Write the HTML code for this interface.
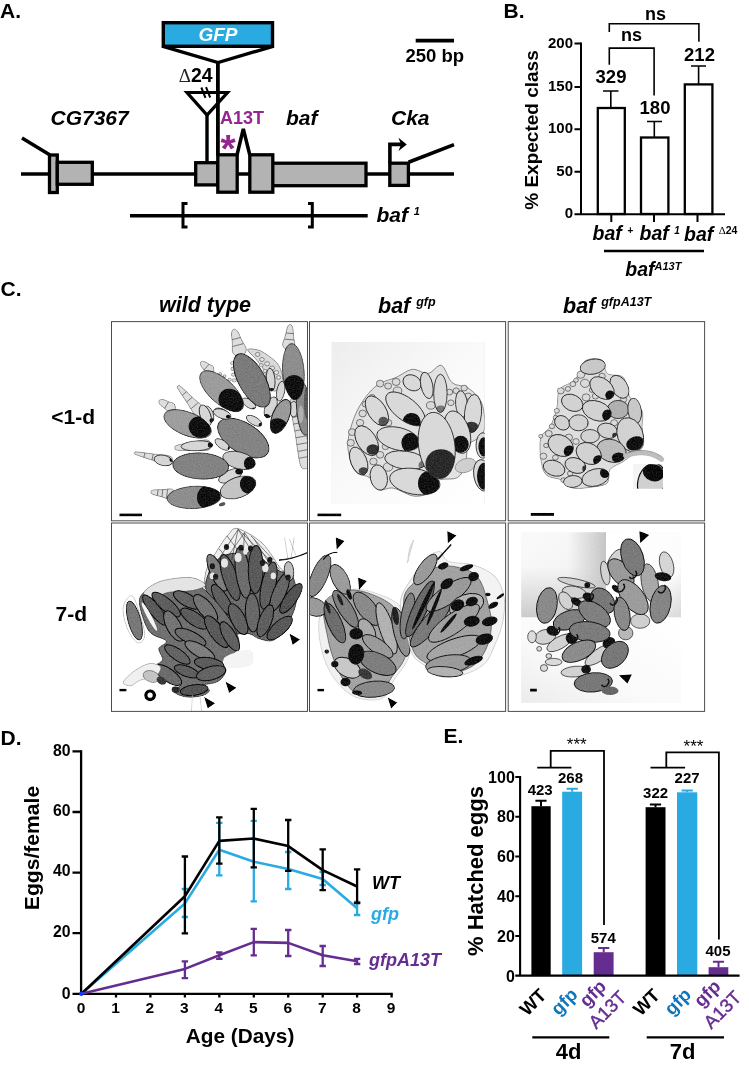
<!DOCTYPE html>
<html lang="en">
<head>
<meta charset="utf-8">
<title>Figure</title>
<style>
html,body{margin:0;padding:0;background:#fff;}
body{width:749px;height:1069px;overflow:hidden;}
svg{display:block;}
text{font-family:"Liberation Sans",Arial,Helvetica,sans-serif;font-weight:bold;fill:#000;}
.i{font-style:italic;}
.ser{font-family:"Liberation Serif","DejaVu Serif",serif;font-weight:normal;}
.k{stroke:#000;fill:none;}
.ex{fill:#b3b3b3;stroke:#000;stroke-width:3.3;}
.pu{fill:#93278f;}
.pv{fill:#662d91;}
.bl{fill:#29abe2;}
.db{fill:#0e76bc;}
</style>
</head>
<body>
<svg width="749" height="1069" viewBox="0 0 749 1069">
<rect width="749" height="1069" fill="#fff"/>

<!-- ================= PANEL A ================= -->
<g id="panelA">
<text x="0" y="18.3" font-size="21">A.</text>
<!-- GFP insert -->
<path class="k" stroke-width="3.4" d="M163 46.3 L218 62.6 L273 46.3"/>
<rect x="163.3" y="22.7" width="109.2" height="23.6" fill="#29abe2" stroke="#000" stroke-width="3.4"/>
<text class="i" x="218" y="41" font-size="19" text-anchor="middle" style="fill:#fff">GFP</text>
<path class="k" stroke-width="3.8" d="M217.9 62.6 V156"/>
<text x="178.8" y="82.3" font-size="19.5"><tspan class="ser" font-size="19" style="fill:#222">Δ</tspan>24</text>
<path class="k" stroke-width="3.2" d="M187 92.5 H227.5 L207 115 Z"/>
<path class="k" stroke-width="3.4" d="M207 114 V164"/>
<path class="k" stroke-width="2" d="M201.3 87.5 L205.5 97.8 M206 87.2 L210.2 97.5"/>
<text class="i" x="50.5" y="124.5" font-size="21">CG7367</text>
<text class="pu" x="220" y="124" font-size="18">A13T</text>
<text class="pu" x="220.6" y="162.3" font-size="39">*</text>
<text class="i" x="286" y="124.5" font-size="21">baf</text>
<text class="i" x="391" y="124.5" font-size="21">Cka</text>
<!-- gene line -->
<path class="k" stroke-width="3.5" d="M21 174 H454"/>
<path class="k" stroke-width="3.5" d="M22 138 L50 155"/>
<rect class="ex" x="49.5" y="155" width="7.8" height="37.5"/>
<rect class="ex" x="57.3" y="162.3" width="35" height="22"/>
<rect class="ex" x="195.7" y="162.7" width="22" height="22.2"/>
<rect class="ex" x="217.8" y="154.8" width="19.4" height="37.4"/>
<path class="k" stroke-width="3.5" d="M237 155 L243.3 128.8 L249.8 155"/>
<rect class="ex" x="272" y="163.2" width="94" height="22.5"/>
<rect class="ex" x="249.8" y="154.8" width="23" height="37.4"/>
<rect class="ex" x="389.8" y="163.2" width="18.6" height="22.2"/>
<path class="k" stroke-width="3.6" d="M389.9 163 V144.4 H401"/>
<path d="M398.5 137.8 L406.8 144.4 L398.5 151 L401 144.5 Z" fill="#000"/>
<path class="k" stroke-width="3.6" d="M408.5 162.3 L454 144.6"/>
<!-- baf1 deletion -->
<path class="k" stroke-width="3.5" d="M130 215.8 H367.7"/>
<path class="k" stroke-width="3" d="M187.5 203.5 H183 V227 H187.5 M308 203.5 H312.3 V227 H308"/>
<text class="i" x="376.5" y="222" font-size="21">baf <tspan font-size="11" dy="-7">1</tspan></text>
<!-- scale bar -->
<path class="k" stroke-width="3.6" d="M415.7 40.6 H454"/>
<text x="405.5" y="62" font-size="18.5">250 bp</text>
</g>

<!-- ================= PANEL B ================= -->
<g id="panelB">
<text x="503.5" y="18.3" font-size="21">B.</text>
<text transform="translate(538.4,130) rotate(-90)" font-size="19" text-anchor="middle">% Expected class</text>
<path class="k" stroke-width="2" d="M581 42.5 V215 M574.5 214.2 H725"/>
<path class="k" stroke-width="2" d="M574.5 43.5 H581 M574.5 87 H581 M574.5 129.2 H581 M574.5 171.7 H581"/>
<path class="k" stroke-width="2" d="M611.3 214 V222 M654 214 V222 M697.5 214 V222"/>
<g font-size="15" text-anchor="end">
<text x="573" y="47.7">200</text><text x="573" y="90.8">150</text><text x="573" y="133">100</text><text x="573" y="175.5">50</text><text x="573" y="218.3">0</text>
</g>
<g class="k" stroke-width="2.3" style="fill:#fff">
<rect x="597.8" y="108" width="27" height="106"/>
<rect x="641" y="137.5" width="27.4" height="76.5"/>
<rect x="684.8" y="84.4" width="27.6" height="129.6"/>
</g>
<path class="k" stroke-width="1.6" d="M610.8 108 V91 M603 91 H618.5 M654.3 137 V121.5 M647 121.5 H662 M698.6 84 V66 M691 66 H706"/>
<g font-size="18.5" text-anchor="middle">
<text x="611" y="83.3">329</text><text x="655" y="113.5">180</text><text x="699.5" y="60.5">212</text>
</g>
<g font-size="18" text-anchor="middle">
<text x="655.5" y="20.2">ns</text><text x="631.6" y="40.8">ns</text>
</g>
<path class="k" stroke-width="1.6" d="M609.3 32 V23.7 H698.9 V41.8 M609.3 64.7 V48.1 H654.1 V95.5"/>
<g class="i" font-size="19.5">
<text x="592.5" y="240.4">baf <tspan font-size="10" dy="-6.5">+</tspan></text>
<text x="639.5" y="240.4">baf <tspan font-size="10" dy="-6.5">1</tspan></text>
<text x="684" y="241.2">baf <tspan font-size="11" dy="-6.8" class="ser" style="font-style:normal">Δ</tspan><tspan font-size="10.5" style="font-style:normal">24</tspan></text>
<text x="625.3" y="276.3">baf<tspan font-size="11" dy="-6.3">A13T</tspan></text>
</g>
<path class="k" stroke-width="2.6" d="M604 251 H704"/>
</g>

<!--PANEL_C-->
<!-- ================= PANEL C ================= -->
<g id="panelC">
<defs>
<filter id="soft" x="-2%" y="-2%" width="104%" height="104%" color-interpolation-filters="sRGB"><feGaussianBlur stdDeviation="0.45" result="b"/><feTurbulence type="fractalNoise" baseFrequency="0.75" numOctaves="2" seed="11" result="n"/><feColorMatrix in="n" type="matrix" values="1 0 0 0 0  1 0 0 0 0  1 0 0 0 0  0 0 0 0 1" result="g"/><feComposite in="b" in2="g" operator="arithmetic" k1="-0.3" k2="1.15" k3="0.3" k4="-0.15" result="m"/><feComposite in="m" in2="b" operator="in"/></filter>
<linearGradient id="g2" x1="0" y1="0" x2="1" y2="1"><stop offset="0" stop-color="#ededed"/><stop offset="0.45" stop-color="#f9f9f9"/><stop offset="1" stop-color="#ffffff"/></linearGradient>
<linearGradient id="g6a" x1="0" y1="0" x2="1" y2="0"><stop offset="0" stop-color="#c8c8c8" stop-opacity="0"/><stop offset="0.55" stop-color="#c8c8c8" stop-opacity="0.05"/><stop offset="1" stop-color="#c4c4c4" stop-opacity="1"/></linearGradient>
<linearGradient id="g6a2" x1="0" y1="0" x2="0" y2="1"><stop offset="0" stop-color="#cccccc" stop-opacity="0"/><stop offset="0.4" stop-color="#cccccc" stop-opacity="0.05"/><stop offset="1" stop-color="#c8c8c8" stop-opacity="0.95"/></linearGradient>
<linearGradient id="g6b" x1="0.2" y1="0" x2="1" y2="1"><stop offset="0" stop-color="#ffffff"/><stop offset="0.65" stop-color="#fbfbfb"/><stop offset="1" stop-color="#d8d8d8"/></linearGradient>
<linearGradient id="g6c" x1="1" y1="0" x2="0" y2="1"><stop offset="0" stop-color="#ffffff"/><stop offset="0.6" stop-color="#fafafa"/><stop offset="1" stop-color="#ececec"/></linearGradient>
</defs>
<text x="0.5" y="295.6" font-size="21">C.</text>
<text class="i" x="159" y="312.4" font-size="21.5">wild type</text>
<text class="i" x="378" y="312.6" font-size="21.5">baf <tspan font-size="12.5" dy="-6.6">gfp</tspan></text>
<text class="i" x="563" y="312.6" font-size="21.5">baf <tspan font-size="12.5" dy="-6.6">gfpA13T</tspan></text>
<text x="51.3" y="423.8" font-size="21">&lt;1-d</text>
<text x="55.5" y="620.6" font-size="21">7-d</text>
<g id="img_wt_1d" filter="url(#soft)"><clipPath id="cp23"><rect x="111.5" y="321.6" width="196.0" height="199.2"/></clipPath><g clip-path="url(#cp23)"><path d="M134.8 452.9 C134.6 453.4 133.0 453.5 135.9 454.7 C138.7 455.9 146.5 458.3 151.9 460.1 C157.2 461.9 164.4 465.2 167.8 465.5 C171.3 465.7 172.4 463.2 172.7 461.6 C173.1 460.0 173.2 457.3 170.0 456.0 C166.8 454.7 158.9 454.6 153.3 453.9 C147.7 453.2 139.6 452.0 136.5 451.8 C133.5 451.7 134.9 452.5 134.8 452.9 Z" fill="#dedede" stroke="#333" stroke-width="0.6"/><path d="M143.9 457.4 L144.9 452.9 M151.9 460.1 L153.3 453.9 M159.9 462.8 L161.6 455.0" stroke="#333" stroke-width="0.6" fill="none"/><path d="M150.8 491.9 C150.7 492.6 150.9 493.5 152.8 494.4 C154.6 495.2 158.9 496.1 161.9 497.0 C165.0 497.9 168.8 499.9 171.1 499.6 C173.4 499.2 175.7 496.6 175.9 494.9 C176.1 493.2 174.5 490.1 172.4 489.2 C170.2 488.3 166.0 489.4 162.8 489.6 C159.7 489.7 155.3 489.5 153.3 489.9 C151.3 490.3 150.9 491.1 150.8 491.9 Z" fill="#dedede" stroke="#333" stroke-width="0.6"/><path d="M157.4 495.7 L158.1 489.7 M161.9 497.0 L162.8 489.6 M166.5 498.3 L167.6 489.4" stroke="#333" stroke-width="0.6" fill="none"/><path d="M158.9 400.6 C158.4 401.4 159.0 403.3 159.9 404.6 C160.9 406.0 163.1 407.2 164.6 408.4 C166.2 409.7 167.5 412.0 169.3 412.2 C171.0 412.5 174.3 411.4 175.1 410.0 C175.9 408.6 175.3 405.2 174.2 403.8 C173.1 402.4 170.4 402.4 168.6 401.7 C166.7 400.9 164.6 399.7 163.0 399.5 C161.3 399.3 159.4 399.7 158.9 400.6 Z" fill="#dedede" stroke="#333" stroke-width="0.6"/><path d="M164.6 408.4 L168.6 401.7" stroke="#333" stroke-width="0.6" fill="none"/><path d="M178.0 386.0 C177.5 386.5 176.3 386.0 177.8 388.7 C179.2 391.3 183.7 397.6 186.6 402.0 C189.6 406.5 192.8 413.2 195.5 415.4 C198.2 417.6 201.2 416.4 202.7 415.2 C204.1 414.0 205.8 411.2 204.0 408.2 C202.3 405.2 196.2 400.9 192.3 397.2 C188.4 393.6 183.0 388.1 180.6 386.3 C178.2 384.4 178.5 385.6 178.0 386.0 Z" fill="#dedede" stroke="#333" stroke-width="0.6"/><path d="M182.2 395.4 L186.5 391.7 M186.6 402.0 L192.3 397.2 M191.1 408.7 L198.2 402.7" stroke="#333" stroke-width="0.6" fill="none"/><path d="M174.7 447.9 C174.8 448.8 174.6 449.9 177.6 450.3 C180.5 450.7 187.6 450.3 192.6 450.3 C197.7 450.3 204.6 451.2 207.7 450.3 C210.8 449.3 211.6 446.4 211.4 444.7 C211.3 442.9 210.0 440.2 206.8 439.8 C203.5 439.5 196.9 441.6 191.9 442.4 C187.0 443.3 180.0 444.1 177.1 445.1 C174.2 446.0 174.7 447.0 174.7 447.9 Z" fill="#dedede" stroke="#333" stroke-width="0.6"/><path d="M185.1 450.3 L184.5 443.8 M192.6 450.3 L191.9 442.4 M200.2 450.3 L199.4 441.1" stroke="#333" stroke-width="0.6" fill="none"/><path d="M233.8 329.0 C232.8 329.3 231.8 330.5 231.5 332.9 C231.3 335.2 232.0 339.7 232.2 343.1 C232.5 346.5 231.5 351.0 233.0 353.3 C234.4 355.6 238.8 357.5 241.0 356.9 C243.3 356.3 246.2 352.5 246.4 349.8 C246.5 347.1 243.5 343.6 242.0 340.6 C240.6 337.5 239.0 333.2 237.7 331.3 C236.3 329.4 234.8 328.8 233.8 329.0 Z" fill="#dedede" stroke="#333" stroke-width="0.6"/><path d="M232.0 339.7 L240.6 337.5 M232.5 346.5 L243.5 343.6" stroke="#333" stroke-width="0.6" fill="none"/><path d="M290.3 324.5 C289.5 324.4 288.4 324.9 287.5 326.8 C286.7 328.8 285.9 333.0 285.1 336.1 C284.3 339.2 282.1 342.9 282.6 345.3 C283.2 347.8 286.3 350.5 288.3 350.6 C290.3 350.8 293.8 348.6 294.7 346.3 C295.6 343.9 294.0 339.9 293.7 336.8 C293.4 333.6 293.3 329.3 292.7 327.2 C292.1 325.2 291.2 324.5 290.3 324.5 Z" fill="#dedede" stroke="#333" stroke-width="0.6"/><path d="M285.9 333.0 L293.4 333.6 M284.3 339.2 L294.0 339.9" stroke="#333" stroke-width="0.6" fill="none"/><path d="M200.7 361.9 C200.1 362.6 200.4 364.6 201.0 366.0 C201.5 367.3 202.9 368.6 203.9 370.0 C204.9 371.3 205.3 373.5 206.8 373.9 C208.3 374.4 211.9 374.1 213.0 372.9 C214.1 371.7 214.0 368.1 213.4 366.7 C212.7 365.2 210.5 365.0 209.1 364.2 C207.7 363.3 206.2 362.1 204.8 361.7 C203.4 361.3 201.4 361.2 200.7 361.9 Z" fill="#dedede" stroke="#333" stroke-width="0.6"/><path d="M203.9 370.0 L209.1 364.2" stroke="#333" stroke-width="0.6" fill="none"/><path d="M294.3 397.6 C292.6 397.9 289.9 397.5 290.1 403.7 C290.2 409.8 293.5 424.1 295.2 434.3 C296.9 444.6 298.4 459.3 300.3 465.0 C302.2 470.7 304.9 468.9 306.8 468.6 C308.7 468.2 311.8 469.1 311.7 463.0 C311.5 457.0 307.9 442.6 306.0 432.4 C304.1 422.2 302.2 407.6 300.3 401.8 C298.3 396.0 296.0 397.3 294.3 397.6 Z" fill="#dedede" stroke="#333" stroke-width="0.6"/><path d="M291.2 410.5 L301.5 408.6 M292.3 417.3 L302.8 415.4 M293.5 424.1 L304.1 422.2 M294.6 430.9 L305.3 429.0 M295.7 437.8 L306.6 435.8 M296.9 444.6 L307.9 442.6 M298.0 451.4 L309.1 449.4 M299.2 458.2 L310.4 456.2" stroke="#333" stroke-width="0.6" fill="none"/><path d="M247.6 349.4 C248.5 348.2 256.0 348.9 260.6 350.8 C265.1 352.8 271.6 357.8 275.0 360.9 C278.3 364.1 279.4 366.0 280.7 369.6 C282.1 373.2 283.9 379.0 282.9 382.6 C282.0 386.2 277.5 390.7 275.0 391.2 C272.5 391.7 269.7 389.1 267.8 385.4 C265.8 381.8 265.6 374.2 263.4 369.6 C261.3 365.0 257.4 361.4 254.8 358.0 C252.2 354.7 246.6 350.6 247.6 349.4 Z" fill="#dadada" stroke="#333" stroke-width="0.6"/><ellipse cx="257.7" cy="354.4" rx="2.3" ry="2.0" transform="rotate(0 257.7 354.4)" fill="#e4e4e4" stroke="#333" stroke-width="0.5"/><ellipse cx="262.0" cy="359.5" rx="2.3" ry="2.0" transform="rotate(0 262.0 359.5)" fill="#e4e4e4" stroke="#333" stroke-width="0.5"/><ellipse cx="267.1" cy="363.8" rx="2.5" ry="2.1" transform="rotate(0 267.1 363.8)" fill="#e4e4e4" stroke="#333" stroke-width="0.5"/><ellipse cx="272.1" cy="368.1" rx="2.5" ry="2.1" transform="rotate(0 272.1 368.1)" fill="#e4e4e4" stroke="#333" stroke-width="0.5"/><ellipse cx="276.4" cy="372.5" rx="2.3" ry="2.0" transform="rotate(0 276.4 372.5)" fill="#e4e4e4" stroke="#333" stroke-width="0.5"/><ellipse cx="278.6" cy="377.5" rx="2.2" ry="1.8" transform="rotate(0 278.6 377.5)" fill="#e4e4e4" stroke="#333" stroke-width="0.5"/><ellipse cx="261.3" cy="365.3" rx="2.0" ry="1.7" transform="rotate(0 261.3 365.3)" fill="#e4e4e4" stroke="#333" stroke-width="0.5"/><ellipse cx="264.9" cy="371.0" rx="2.0" ry="1.7" transform="rotate(0 264.9 371.0)" fill="#e4e4e4" stroke="#333" stroke-width="0.5"/><ellipse cx="232.4" cy="363.1" rx="2.0" ry="1.7" transform="rotate(0 232.4 363.1)" fill="#e0e0e0" stroke="#333" stroke-width="0.5"/><ellipse cx="232.9" cy="368.9" rx="2.2" ry="1.8" transform="rotate(0 232.9 368.9)" fill="#e0e0e0" stroke="#333" stroke-width="0.5"/><ellipse cx="233.5" cy="374.6" rx="2.2" ry="1.8" transform="rotate(0 233.5 374.6)" fill="#e0e0e0" stroke="#333" stroke-width="0.5"/><ellipse cx="234.3" cy="380.4" rx="2.2" ry="1.8" transform="rotate(0 234.3 380.4)" fill="#e0e0e0" stroke="#333" stroke-width="0.5"/><ellipse cx="229.6" cy="379.7" rx="1.9" ry="1.6" transform="rotate(0 229.6 379.7)" fill="#e0e0e0" stroke="#333" stroke-width="0.5"/><ellipse cx="224.5" cy="376.1" rx="1.7" ry="1.5" transform="rotate(0 224.5 376.1)" fill="#e0e0e0" stroke="#333" stroke-width="0.5"/><ellipse cx="220.2" cy="373.9" rx="1.7" ry="1.5" transform="rotate(0 220.2 373.9)" fill="#e0e0e0" stroke="#333" stroke-width="0.5"/><clipPath id="cp1"><ellipse cx="270.7" cy="379.7" rx="11.5" ry="4.3" transform="rotate(85 270.7 379.7)"/></clipPath><ellipse cx="270.7" cy="379.7" rx="11.5" ry="4.3" transform="rotate(85 270.7 379.7)" fill="#d6d6d6" stroke="none" stroke-width="0"/><g clip-path="url(#cp1)"><ellipse cx="271.7" cy="390.9" rx="3.5" ry="2.9" transform="rotate(0 271.7 390.9)" fill="#111" stroke="none" stroke-width="0"/></g><ellipse cx="270.7" cy="379.7" rx="11.5" ry="4.3" transform="rotate(85 270.7 379.7)" fill="none" stroke="#1a1a1a" stroke-width="0.8"/><clipPath id="cp2"><ellipse cx="280.7" cy="391.2" rx="10.1" ry="4.0" transform="rotate(100 280.7 391.2)"/></clipPath><ellipse cx="280.7" cy="391.2" rx="10.1" ry="4.0" transform="rotate(100 280.7 391.2)" fill="#d6d6d6" stroke="none" stroke-width="0"/><g clip-path="url(#cp2)"></g><ellipse cx="280.7" cy="391.2" rx="10.1" ry="4.0" transform="rotate(100 280.7 391.2)" fill="none" stroke="#1a1a1a" stroke-width="0.8"/><clipPath id="cp3"><ellipse cx="270.7" cy="407.4" rx="11.2" ry="5.5" transform="rotate(-67 270.7 407.4)"/></clipPath><ellipse cx="270.7" cy="407.4" rx="11.2" ry="5.5" transform="rotate(-67 270.7 407.4)" fill="#d6d6d6" stroke="none" stroke-width="0"/><g clip-path="url(#cp3)"><ellipse cx="266.0" cy="417.5" rx="4.3" ry="3.5" transform="rotate(0 266.0 417.5)" fill="#111" stroke="none" stroke-width="0"/></g><ellipse cx="270.7" cy="407.4" rx="11.2" ry="5.5" transform="rotate(-67 270.7 407.4)" fill="none" stroke="#1a1a1a" stroke-width="0.8"/><clipPath id="cp4"><ellipse cx="221.6" cy="412.8" rx="7.9" ry="4.0" transform="rotate(25 221.6 412.8)"/></clipPath><ellipse cx="221.6" cy="412.8" rx="7.9" ry="4.0" transform="rotate(25 221.6 412.8)" fill="#d6d6d6" stroke="none" stroke-width="0"/><g clip-path="url(#cp4)"><ellipse cx="228.0" cy="416.7" rx="2.3" ry="2.0" transform="rotate(0 228.0 416.7)" fill="#111" stroke="none" stroke-width="0"/></g><ellipse cx="221.6" cy="412.8" rx="7.9" ry="4.0" transform="rotate(25 221.6 412.8)" fill="none" stroke="#1a1a1a" stroke-width="0.8"/><clipPath id="cp5"><ellipse cx="208.7" cy="414.3" rx="8.7" ry="4.6" transform="rotate(70 208.7 414.3)"/></clipPath><ellipse cx="208.7" cy="414.3" rx="8.7" ry="4.6" transform="rotate(70 208.7 414.3)" fill="#d6d6d6" stroke="none" stroke-width="0"/><g clip-path="url(#cp5)"><ellipse cx="213.0" cy="420.6" rx="2.9" ry="2.3" transform="rotate(0 213.0 420.6)" fill="#111" stroke="none" stroke-width="0"/></g><ellipse cx="208.7" cy="414.3" rx="8.7" ry="4.6" transform="rotate(70 208.7 414.3)" fill="none" stroke="#1a1a1a" stroke-width="0.8"/><clipPath id="cp6"><ellipse cx="249.0" cy="403.5" rx="7.9" ry="4.0" transform="rotate(35 249.0 403.5)"/></clipPath><ellipse cx="249.0" cy="403.5" rx="7.9" ry="4.0" transform="rotate(35 249.0 403.5)" fill="#d6d6d6" stroke="none" stroke-width="0"/><g clip-path="url(#cp6)"><ellipse cx="253.9" cy="409.4" rx="2.3" ry="2.0" transform="rotate(0 253.9 409.4)" fill="#111" stroke="none" stroke-width="0"/></g><ellipse cx="249.0" cy="403.5" rx="7.9" ry="4.0" transform="rotate(35 249.0 403.5)" fill="none" stroke="#1a1a1a" stroke-width="0.8"/><clipPath id="cp7"><ellipse cx="254.1" cy="420.8" rx="8.7" ry="4.0" transform="rotate(30 254.1 420.8)"/></clipPath><ellipse cx="254.1" cy="420.8" rx="8.7" ry="4.0" transform="rotate(30 254.1 420.8)" fill="#d6d6d6" stroke="none" stroke-width="0"/><g clip-path="url(#cp7)"><ellipse cx="260.9" cy="424.8" rx="2.3" ry="2.0" transform="rotate(0 260.9 424.8)" fill="#111" stroke="none" stroke-width="0"/></g><ellipse cx="254.1" cy="420.8" rx="8.7" ry="4.0" transform="rotate(30 254.1 420.8)" fill="none" stroke="#1a1a1a" stroke-width="0.8"/><clipPath id="cp8"><ellipse cx="293.7" cy="409.2" rx="7.9" ry="4.0" transform="rotate(90 293.7 409.2)"/></clipPath><ellipse cx="293.7" cy="409.2" rx="7.9" ry="4.0" transform="rotate(90 293.7 409.2)" fill="#d6d6d6" stroke="none" stroke-width="0"/><g clip-path="url(#cp8)"></g><ellipse cx="293.7" cy="409.2" rx="7.9" ry="4.0" transform="rotate(90 293.7 409.2)" fill="none" stroke="#1a1a1a" stroke-width="0.8"/><clipPath id="cp9"><ellipse cx="303.5" cy="408.5" rx="26.7" ry="6.9" transform="rotate(86 303.5 408.5)"/></clipPath><ellipse cx="303.5" cy="408.5" rx="26.7" ry="6.9" transform="rotate(86 303.5 408.5)" fill="#8a8a8a" stroke="none" stroke-width="0"/><g clip-path="url(#cp9)"><ellipse cx="307.4" cy="402.7" rx="3.6" ry="17.3" transform="rotate(0 307.4 402.7)" fill="#5a5a5a" stroke="none" stroke-width="0"/><ellipse cx="300.9" cy="414.3" rx="2.6" ry="8.7" transform="rotate(0 300.9 414.3)" fill="#b0b0b0" stroke="none" stroke-width="0"/></g><ellipse cx="303.5" cy="408.5" rx="26.7" ry="6.9" transform="rotate(86 303.5 408.5)" fill="none" stroke="#1a1a1a" stroke-width="0.8"/><clipPath id="cp10"><ellipse cx="280.7" cy="416.4" rx="18.0" ry="8.4" transform="rotate(-68 280.7 416.4)"/></clipPath><ellipse cx="280.7" cy="416.4" rx="18.0" ry="8.4" transform="rotate(-68 280.7 416.4)" fill="#9a9a9a" stroke="none" stroke-width="0"/><g clip-path="url(#cp10)"><ellipse cx="277.1" cy="429.0" rx="10.8" ry="10.8" transform="rotate(0 277.1 429.0)" fill="#111" stroke="none" stroke-width="0"/></g><ellipse cx="280.7" cy="416.4" rx="18.0" ry="8.4" transform="rotate(-68 280.7 416.4)" fill="none" stroke="#222" stroke-width="1.1"/><clipPath id="cp11"><ellipse cx="293.4" cy="371.7" rx="28.1" ry="10.8" transform="rotate(86 293.4 371.7)"/></clipPath><ellipse cx="293.4" cy="371.7" rx="28.1" ry="10.8" transform="rotate(86 293.4 371.7)" fill="#8e8e8e" stroke="none" stroke-width="0"/><g clip-path="url(#cp11)"><ellipse cx="294.0" cy="387.6" rx="11.2" ry="12.7" transform="rotate(0 294.0 387.6)" fill="#111" stroke="none" stroke-width="0"/></g><ellipse cx="293.4" cy="371.7" rx="28.1" ry="10.8" transform="rotate(86 293.4 371.7)" fill="none" stroke="#1a1a1a" stroke-width="0.8"/><clipPath id="cp12"><ellipse cx="221.6" cy="391.2" rx="27.4" ry="12.3" transform="rotate(42 221.6 391.2)"/></clipPath><ellipse cx="221.6" cy="391.2" rx="27.4" ry="12.3" transform="rotate(42 221.6 391.2)" fill="#9c9c9c" stroke="none" stroke-width="0"/><g clip-path="url(#cp12)"><ellipse cx="231.0" cy="401.0" rx="13.3" ry="11.5" transform="rotate(42 231.0 401.0)" fill="#111" stroke="none" stroke-width="0"/></g><ellipse cx="221.6" cy="391.2" rx="27.4" ry="12.3" transform="rotate(42 221.6 391.2)" fill="none" stroke="#1a1a1a" stroke-width="0.8"/><ellipse cx="251.9" cy="380.4" rx="29.6" ry="13.3" transform="rotate(61 251.9 380.4)" fill="#7b7b7b" stroke="#111" stroke-width="0.9"/><ellipse cx="243.3" cy="438.1" rx="28.8" ry="15.1" transform="rotate(32 243.3 438.1)" fill="#848484" stroke="#111" stroke-width="0.9"/><clipPath id="cp13"><ellipse cx="205.4" cy="415.5" rx="11.2" ry="5.2" transform="rotate(70 205.4 415.5)"/></clipPath><ellipse cx="205.4" cy="415.5" rx="11.2" ry="5.2" transform="rotate(70 205.4 415.5)" fill="#d6d6d6" stroke="none" stroke-width="0"/><g clip-path="url(#cp13)"><ellipse cx="212.5" cy="420.6" rx="3.0" ry="2.6" transform="rotate(0 212.5 420.6)" fill="#111" stroke="none" stroke-width="0"/></g><ellipse cx="205.4" cy="415.5" rx="11.2" ry="5.2" transform="rotate(70 205.4 415.5)" fill="none" stroke="#1a1a1a" stroke-width="0.8"/><clipPath id="cp14"><ellipse cx="222.2" cy="414.0" rx="9.3" ry="4.5" transform="rotate(20 222.2 414.0)"/></clipPath><ellipse cx="222.2" cy="414.0" rx="9.3" ry="4.5" transform="rotate(20 222.2 414.0)" fill="#d6d6d6" stroke="none" stroke-width="0"/><g clip-path="url(#cp14)"><ellipse cx="228.2" cy="416.6" rx="2.2" ry="1.9" transform="rotate(0 228.2 416.6)" fill="#111" stroke="none" stroke-width="0"/></g><ellipse cx="222.2" cy="414.0" rx="9.3" ry="4.5" transform="rotate(20 222.2 414.0)" fill="none" stroke="#1a1a1a" stroke-width="0.8"/><clipPath id="cp15"><ellipse cx="197.0" cy="445.8" rx="15.9" ry="5.0" transform="rotate(-3 197.0 445.8)"/></clipPath><ellipse cx="197.0" cy="445.8" rx="15.9" ry="5.0" transform="rotate(-3 197.0 445.8)" fill="#d6d6d6" stroke="none" stroke-width="0"/><g clip-path="url(#cp15)"><ellipse cx="210.6" cy="444.9" rx="2.8" ry="2.6" transform="rotate(0 210.6 444.9)" fill="#111" stroke="none" stroke-width="0"/></g><ellipse cx="197.0" cy="445.8" rx="15.9" ry="5.0" transform="rotate(-3 197.0 445.8)" fill="none" stroke="#1a1a1a" stroke-width="0.8"/><clipPath id="cp16"><ellipse cx="163.3" cy="460.4" rx="9.3" ry="5.2" transform="rotate(12 163.3 460.4)"/></clipPath><ellipse cx="163.3" cy="460.4" rx="9.3" ry="5.2" transform="rotate(12 163.3 460.4)" fill="#d6d6d6" stroke="none" stroke-width="0"/><g clip-path="url(#cp16)"><ellipse cx="171.0" cy="459.6" rx="1.5" ry="2.4" transform="rotate(0 171.0 459.6)" fill="#111" stroke="none" stroke-width="0"/></g><ellipse cx="163.3" cy="460.4" rx="9.3" ry="5.2" transform="rotate(12 163.3 460.4)" fill="none" stroke="#1a1a1a" stroke-width="0.8"/><clipPath id="cp17"><ellipse cx="230.6" cy="475.7" rx="13.1" ry="5.6" transform="rotate(-25 230.6 475.7)"/></clipPath><ellipse cx="230.6" cy="475.7" rx="13.1" ry="5.6" transform="rotate(-25 230.6 475.7)" fill="#d6d6d6" stroke="none" stroke-width="0"/><g clip-path="url(#cp17)"><ellipse cx="239.4" cy="471.6" rx="4.1" ry="3.0" transform="rotate(0 239.4 471.6)" fill="#111" stroke="none" stroke-width="0"/></g><ellipse cx="230.6" cy="475.7" rx="13.1" ry="5.6" transform="rotate(-25 230.6 475.7)" fill="none" stroke="#1a1a1a" stroke-width="0.8"/><clipPath id="cp18"><ellipse cx="222.2" cy="444.5" rx="8.4" ry="4.1" transform="rotate(35 222.2 444.5)"/></clipPath><ellipse cx="222.2" cy="444.5" rx="8.4" ry="4.1" transform="rotate(35 222.2 444.5)" fill="#d6d6d6" stroke="none" stroke-width="0"/><g clip-path="url(#cp18)"><ellipse cx="229.7" cy="448.2" rx="1.9" ry="1.9" transform="rotate(0 229.7 448.2)" fill="#111" stroke="none" stroke-width="0"/></g><ellipse cx="222.2" cy="444.5" rx="8.4" ry="4.1" transform="rotate(35 222.2 444.5)" fill="none" stroke="#1a1a1a" stroke-width="0.8"/><clipPath id="cp19"><ellipse cx="239.0" cy="460.4" rx="16.8" ry="8.4" transform="rotate(15 239.0 460.4)"/></clipPath><ellipse cx="239.0" cy="460.4" rx="16.8" ry="8.4" transform="rotate(15 239.0 460.4)" fill="#c8c8c8" stroke="none" stroke-width="0"/><g clip-path="url(#cp19)"><ellipse cx="249.9" cy="463.4" rx="6.0" ry="6.7" transform="rotate(0 249.9 463.4)" fill="#111" stroke="none" stroke-width="0"/></g><ellipse cx="239.0" cy="460.4" rx="16.8" ry="8.4" transform="rotate(15 239.0 460.4)" fill="none" stroke="#1a1a1a" stroke-width="0.8"/><clipPath id="cp20"><ellipse cx="238.1" cy="487.5" rx="18.7" ry="10.3" transform="rotate(-20 238.1 487.5)"/></clipPath><ellipse cx="238.1" cy="487.5" rx="18.7" ry="10.3" transform="rotate(-20 238.1 487.5)" fill="#c4c4c4" stroke="none" stroke-width="0"/><g clip-path="url(#cp20)"><ellipse cx="248.0" cy="484.7" rx="7.9" ry="9.3" transform="rotate(-20 248.0 484.7)" fill="#111" stroke="none" stroke-width="0"/></g><ellipse cx="238.1" cy="487.5" rx="18.7" ry="10.3" transform="rotate(-20 238.1 487.5)" fill="none" stroke="#1a1a1a" stroke-width="0.8"/><clipPath id="cp21"><ellipse cx="187.6" cy="423.9" rx="25.2" ry="11.6" transform="rotate(22 187.6 423.9)"/></clipPath><ellipse cx="187.6" cy="423.9" rx="25.2" ry="11.6" transform="rotate(22 187.6 423.9)" fill="#9e9e9e" stroke="none" stroke-width="0"/><g clip-path="url(#cp21)"><ellipse cx="200.1" cy="427.1" rx="11.6" ry="10.8" transform="rotate(22 200.1 427.1)" fill="#111" stroke="none" stroke-width="0"/></g><ellipse cx="187.6" cy="423.9" rx="25.2" ry="11.6" transform="rotate(22 187.6 423.9)" fill="none" stroke="#1a1a1a" stroke-width="0.8"/><clipPath id="cp22"><ellipse cx="194.2" cy="497.4" rx="27.1" ry="11.2" transform="rotate(-3 194.2 497.4)"/></clipPath><ellipse cx="194.2" cy="497.4" rx="27.1" ry="11.2" transform="rotate(-3 194.2 497.4)" fill="#8e8e8e" stroke="none" stroke-width="0"/><g clip-path="url(#cp22)"><ellipse cx="208.6" cy="497.4" rx="11.6" ry="12.3" transform="rotate(0 208.6 497.4)" fill="#111" stroke="none" stroke-width="0"/></g><ellipse cx="194.2" cy="497.4" rx="27.1" ry="11.2" transform="rotate(-3 194.2 497.4)" fill="none" stroke="#1a1a1a" stroke-width="0.8"/><ellipse cx="200.7" cy="466.0" rx="28.0" ry="13.1" transform="rotate(3 200.7 466.0)" fill="#838383" stroke="#111" stroke-width="0.9"/><ellipse cx="222.2" cy="504.3" rx="3.4" ry="1.9" transform="rotate(-20 222.2 504.3)" fill="#555" stroke="none" stroke-width="0"/></g><path d="M119.3 514.9 H142.0" stroke="#000" stroke-width="3" fill="none"/></g>
<g id="img_gfp_1d" filter="url(#soft)"><clipPath id="cp41"><rect x="331.5" y="341.9" width="153.3" height="162.3"/></clipPath><g clip-path="url(#cp41)"><rect x="331.5" y="341.9" width="153.3" height="162.3" fill="url(#g2)"/><path d="M348.1 440.2 C348.9 433.5 351.8 423.2 354.7 416.1 C357.6 409.0 361.4 402.8 365.4 397.4 C369.4 392.1 373.6 387.4 378.8 384.1 C383.9 380.7 390.6 379.9 396.1 377.4 C401.7 375.0 406.8 370.1 412.1 369.4 C417.5 368.7 423.3 374.1 428.2 373.4 C433.1 372.7 437.5 363.8 441.5 365.4 C445.5 367.0 447.7 379.0 452.2 382.8 C456.6 386.5 463.3 384.8 468.2 388.1 C473.1 391.4 478.8 396.3 481.6 402.8 C484.3 409.2 485.2 421.0 484.8 426.8 C484.3 432.6 481.7 434.4 478.9 437.5 C476.1 440.6 470.4 441.1 468.2 445.5 C466.0 450.0 467.3 458.9 465.5 464.2 C463.8 469.5 462.0 474.9 457.5 477.5 C453.1 480.2 442.8 478.0 438.8 480.2 C434.8 482.4 437.5 488.2 433.5 490.9 C429.5 493.6 421.5 496.7 414.8 496.2 C408.1 495.8 399.5 489.3 393.4 488.2 C387.4 487.1 382.8 491.3 378.8 489.6 C374.8 487.8 373.2 480.4 369.4 477.5 C365.6 474.7 359.4 475.8 356.1 472.2 C352.7 468.6 350.7 461.5 349.4 456.2 C348.1 450.8 347.2 446.8 348.1 440.2 Z" fill="#e2e2e2" stroke="#444" stroke-width="0.6"/><ellipse cx="380.1" cy="383.6" rx="3.7" ry="3.4" transform="rotate(0 380.1 383.6)" fill="#d9d9d9" stroke="#333" stroke-width="0.6"/><ellipse cx="388.1" cy="386.0" rx="3.5" ry="3.1" transform="rotate(0 388.1 386.0)" fill="#d9d9d9" stroke="#333" stroke-width="0.6"/><ellipse cx="396.1" cy="381.9" rx="4.0" ry="3.6" transform="rotate(0 396.1 381.9)" fill="#d9d9d9" stroke="#333" stroke-width="0.6"/><ellipse cx="397.5" cy="390.8" rx="4.3" ry="3.8" transform="rotate(0 397.5 390.8)" fill="#d9d9d9" stroke="#333" stroke-width="0.6"/><ellipse cx="372.1" cy="397.4" rx="3.2" ry="2.9" transform="rotate(0 372.1 397.4)" fill="#d9d9d9" stroke="#333" stroke-width="0.6"/><ellipse cx="365.4" cy="404.1" rx="3.2" ry="2.9" transform="rotate(0 365.4 404.1)" fill="#d9d9d9" stroke="#333" stroke-width="0.6"/><ellipse cx="362.7" cy="413.5" rx="3.7" ry="3.4" transform="rotate(0 362.7 413.5)" fill="#d9d9d9" stroke="#333" stroke-width="0.6"/><ellipse cx="360.1" cy="422.8" rx="3.7" ry="3.4" transform="rotate(0 360.1 422.8)" fill="#d9d9d9" stroke="#333" stroke-width="0.6"/><ellipse cx="352.1" cy="432.1" rx="3.7" ry="3.4" transform="rotate(0 352.1 432.1)" fill="#d9d9d9" stroke="#333" stroke-width="0.6"/><ellipse cx="350.7" cy="442.8" rx="3.7" ry="3.4" transform="rotate(0 350.7 442.8)" fill="#d9d9d9" stroke="#333" stroke-width="0.6"/><ellipse cx="354.7" cy="452.2" rx="3.2" ry="2.9" transform="rotate(0 354.7 452.2)" fill="#d9d9d9" stroke="#333" stroke-width="0.6"/><ellipse cx="373.4" cy="461.5" rx="3.7" ry="3.4" transform="rotate(0 373.4 461.5)" fill="#d9d9d9" stroke="#333" stroke-width="0.6"/><ellipse cx="380.1" cy="454.8" rx="3.7" ry="3.4" transform="rotate(0 380.1 454.8)" fill="#d9d9d9" stroke="#333" stroke-width="0.6"/><ellipse cx="388.1" cy="466.9" rx="4.8" ry="4.3" transform="rotate(0 388.1 466.9)" fill="#d9d9d9" stroke="#333" stroke-width="0.6"/><ellipse cx="430.8" cy="405.4" rx="4.3" ry="3.8" transform="rotate(0 430.8 405.4)" fill="#d9d9d9" stroke="#333" stroke-width="0.6"/><ellipse cx="449.5" cy="392.1" rx="3.2" ry="2.9" transform="rotate(0 449.5 392.1)" fill="#d9d9d9" stroke="#333" stroke-width="0.6"/><ellipse cx="456.2" cy="390.8" rx="3.2" ry="2.9" transform="rotate(0 456.2 390.8)" fill="#d9d9d9" stroke="#333" stroke-width="0.6"/><ellipse cx="464.2" cy="388.1" rx="3.2" ry="2.9" transform="rotate(0 464.2 388.1)" fill="#d9d9d9" stroke="#333" stroke-width="0.6"/><ellipse cx="468.2" cy="396.1" rx="3.5" ry="3.1" transform="rotate(0 468.2 396.1)" fill="#d9d9d9" stroke="#333" stroke-width="0.6"/><ellipse cx="450.9" cy="402.8" rx="3.2" ry="2.9" transform="rotate(0 450.9 402.8)" fill="#d9d9d9" stroke="#333" stroke-width="0.6"/><ellipse cx="425.5" cy="425.5" rx="3.7" ry="3.4" transform="rotate(0 425.5 425.5)" fill="#d9d9d9" stroke="#333" stroke-width="0.6"/><ellipse cx="388.1" cy="422.8" rx="3.7" ry="3.4" transform="rotate(0 388.1 422.8)" fill="#d9d9d9" stroke="#333" stroke-width="0.6"/><ellipse cx="385.4" cy="446.8" rx="3.2" ry="2.9" transform="rotate(0 385.4 446.8)" fill="#d9d9d9" stroke="#333" stroke-width="0.6"/><clipPath id="cp24"><ellipse cx="412.1" cy="382.8" rx="9.6" ry="7.5" transform="rotate(30 412.1 382.8)"/></clipPath><ellipse cx="412.1" cy="382.8" rx="9.6" ry="7.5" transform="rotate(30 412.1 382.8)" fill="#d9d9d9" stroke="none" stroke-width="0"/><g clip-path="url(#cp24)"></g><ellipse cx="412.1" cy="382.8" rx="9.6" ry="7.5" transform="rotate(30 412.1 382.8)" fill="none" stroke="#1a1a1a" stroke-width="0.8"/><clipPath id="cp25"><ellipse cx="426.8" cy="385.4" rx="5.9" ry="13.4" transform="rotate(-12 426.8 385.4)"/></clipPath><ellipse cx="426.8" cy="385.4" rx="5.9" ry="13.4" transform="rotate(-12 426.8 385.4)" fill="#d9d9d9" stroke="none" stroke-width="0"/><g clip-path="url(#cp25)"></g><ellipse cx="426.8" cy="385.4" rx="5.9" ry="13.4" transform="rotate(-12 426.8 385.4)" fill="none" stroke="#1a1a1a" stroke-width="0.8"/><clipPath id="cp26"><ellipse cx="440.4" cy="393.4" rx="6.7" ry="19.2" transform="rotate(0 440.4 393.4)"/></clipPath><ellipse cx="440.4" cy="393.4" rx="6.7" ry="19.2" transform="rotate(0 440.4 393.4)" fill="#d9d9d9" stroke="none" stroke-width="0"/><g clip-path="url(#cp26)"><ellipse cx="440.7" cy="410.3" rx="5.9" ry="4.8" transform="rotate(0 440.7 410.3)" fill="#777" stroke="none" stroke-width="0"/></g><ellipse cx="440.4" cy="393.4" rx="6.7" ry="19.2" transform="rotate(0 440.4 393.4)" fill="none" stroke="#1a1a1a" stroke-width="0.8"/><clipPath id="cp27"><ellipse cx="461.5" cy="404.1" rx="5.9" ry="13.4" transform="rotate(-5 461.5 404.1)"/></clipPath><ellipse cx="461.5" cy="404.1" rx="5.9" ry="13.4" transform="rotate(-5 461.5 404.1)" fill="#d9d9d9" stroke="none" stroke-width="0"/><g clip-path="url(#cp27)"></g><ellipse cx="461.5" cy="404.1" rx="5.9" ry="13.4" transform="rotate(-5 461.5 404.1)" fill="none" stroke="#1a1a1a" stroke-width="0.8"/><clipPath id="cp28"><ellipse cx="473.0" cy="413.5" rx="8.5" ry="19.2" transform="rotate(5 473.0 413.5)"/></clipPath><ellipse cx="473.0" cy="413.5" rx="8.5" ry="19.2" transform="rotate(5 473.0 413.5)" fill="#d9d9d9" stroke="none" stroke-width="0"/><g clip-path="url(#cp28)"><ellipse cx="471.4" cy="428.1" rx="7.5" ry="6.4" transform="rotate(0 471.4 428.1)" fill="#333" stroke="none" stroke-width="0"/></g><ellipse cx="473.0" cy="413.5" rx="8.5" ry="19.2" transform="rotate(5 473.0 413.5)" fill="none" stroke="#1a1a1a" stroke-width="0.8"/><clipPath id="cp29"><ellipse cx="376.9" cy="410.8" rx="9.1" ry="16.6" transform="rotate(-32 376.9 410.8)"/></clipPath><ellipse cx="376.9" cy="410.8" rx="9.1" ry="16.6" transform="rotate(-32 376.9 410.8)" fill="#d9d9d9" stroke="none" stroke-width="0"/><g clip-path="url(#cp29)"><ellipse cx="383.3" cy="421.5" rx="4.8" ry="4.8" transform="rotate(0 383.3 421.5)" fill="#555" stroke="none" stroke-width="0"/></g><ellipse cx="376.9" cy="410.8" rx="9.1" ry="16.6" transform="rotate(-32 376.9 410.8)" fill="none" stroke="#1a1a1a" stroke-width="0.8"/><clipPath id="cp30"><ellipse cx="366.7" cy="440.7" rx="9.6" ry="16.6" transform="rotate(-32 366.7 440.7)"/></clipPath><ellipse cx="366.7" cy="440.7" rx="9.6" ry="16.6" transform="rotate(-32 366.7 440.7)" fill="#d9d9d9" stroke="none" stroke-width="0"/><g clip-path="url(#cp30)"><ellipse cx="372.9" cy="449.5" rx="6.4" ry="5.3" transform="rotate(0 372.9 449.5)" fill="#333" stroke="none" stroke-width="0"/></g><ellipse cx="366.7" cy="440.7" rx="9.6" ry="16.6" transform="rotate(-32 366.7 440.7)" fill="none" stroke="#1a1a1a" stroke-width="0.8"/><clipPath id="cp31"><ellipse cx="358.7" cy="461.0" rx="8.0" ry="14.7" transform="rotate(-22 358.7 461.0)"/></clipPath><ellipse cx="358.7" cy="461.0" rx="8.0" ry="14.7" transform="rotate(-22 358.7 461.0)" fill="#d9d9d9" stroke="none" stroke-width="0"/><g clip-path="url(#cp31)"><ellipse cx="363.5" cy="470.9" rx="4.8" ry="3.7" transform="rotate(0 363.5 470.9)" fill="#444" stroke="none" stroke-width="0"/></g><ellipse cx="358.7" cy="461.0" rx="8.0" ry="14.7" transform="rotate(-22 358.7 461.0)" fill="none" stroke="#1a1a1a" stroke-width="0.8"/><clipPath id="cp32"><ellipse cx="378.8" cy="477.5" rx="8.5" ry="12.8" transform="rotate(-12 378.8 477.5)"/></clipPath><ellipse cx="378.8" cy="477.5" rx="8.5" ry="12.8" transform="rotate(-12 378.8 477.5)" fill="#d9d9d9" stroke="none" stroke-width="0"/><g clip-path="url(#cp32)"></g><ellipse cx="378.8" cy="477.5" rx="8.5" ry="12.8" transform="rotate(-12 378.8 477.5)" fill="none" stroke="#1a1a1a" stroke-width="0.8"/><clipPath id="cp33"><ellipse cx="405.5" cy="460.2" rx="20.8" ry="9.1" transform="rotate(8 405.5 460.2)"/></clipPath><ellipse cx="405.5" cy="460.2" rx="20.8" ry="9.1" transform="rotate(8 405.5 460.2)" fill="#d9d9d9" stroke="none" stroke-width="0"/><g clip-path="url(#cp33)"><ellipse cx="422.8" cy="465.5" rx="4.3" ry="4.8" transform="rotate(0 422.8 465.5)" fill="#777" stroke="none" stroke-width="0"/></g><ellipse cx="405.5" cy="460.2" rx="20.8" ry="9.1" transform="rotate(8 405.5 460.2)" fill="none" stroke="#1a1a1a" stroke-width="0.8"/><clipPath id="cp34"><ellipse cx="405.5" cy="408.9" rx="23.5" ry="11.2" transform="rotate(38 405.5 408.9)"/></clipPath><ellipse cx="405.5" cy="408.9" rx="23.5" ry="11.2" transform="rotate(38 405.5 408.9)" fill="#d9d9d9" stroke="none" stroke-width="0"/><g clip-path="url(#cp34)"><ellipse cx="411.6" cy="422.0" rx="9.1" ry="9.1" transform="rotate(38 411.6 422.0)" fill="#111" stroke="none" stroke-width="0"/></g><ellipse cx="405.5" cy="408.9" rx="23.5" ry="11.2" transform="rotate(38 405.5 408.9)" fill="none" stroke="#1a1a1a" stroke-width="0.8"/><clipPath id="cp35"><ellipse cx="398.3" cy="438.8" rx="21.9" ry="11.2" transform="rotate(14 398.3 438.8)"/></clipPath><ellipse cx="398.3" cy="438.8" rx="21.9" ry="11.2" transform="rotate(14 398.3 438.8)" fill="#d9d9d9" stroke="none" stroke-width="0"/><g clip-path="url(#cp35)"><ellipse cx="410.5" cy="442.8" rx="9.1" ry="10.1" transform="rotate(0 410.5 442.8)" fill="#111" stroke="none" stroke-width="0"/></g><ellipse cx="398.3" cy="438.8" rx="21.9" ry="11.2" transform="rotate(14 398.3 438.8)" fill="none" stroke="#1a1a1a" stroke-width="0.8"/><clipPath id="cp36"><ellipse cx="457.5" cy="432.1" rx="12.0" ry="21.9" transform="rotate(-18 457.5 432.1)"/></clipPath><ellipse cx="457.5" cy="432.1" rx="12.0" ry="21.9" transform="rotate(-18 457.5 432.1)" fill="#d9d9d9" stroke="none" stroke-width="0"/><g clip-path="url(#cp36)"><ellipse cx="460.7" cy="444.2" rx="8.0" ry="8.5" transform="rotate(0 460.7 444.2)" fill="#111" stroke="none" stroke-width="0"/></g><ellipse cx="457.5" cy="432.1" rx="12.0" ry="21.9" transform="rotate(-18 457.5 432.1)" fill="none" stroke="#1a1a1a" stroke-width="0.8"/><clipPath id="cp37"><ellipse cx="414.8" cy="481.5" rx="25.4" ry="12.8" transform="rotate(10 414.8 481.5)"/></clipPath><ellipse cx="414.8" cy="481.5" rx="25.4" ry="12.8" transform="rotate(10 414.8 481.5)" fill="#d9d9d9" stroke="none" stroke-width="0"/><g clip-path="url(#cp37)"><ellipse cx="428.7" cy="483.4" rx="10.7" ry="12.3" transform="rotate(0 428.7 483.4)" fill="#111" stroke="none" stroke-width="0"/></g><ellipse cx="414.8" cy="481.5" rx="25.4" ry="12.8" transform="rotate(10 414.8 481.5)" fill="none" stroke="#1a1a1a" stroke-width="0.8"/><clipPath id="cp38"><ellipse cx="436.7" cy="445.5" rx="18.2" ry="33.4" transform="rotate(-8 436.7 445.5)"/></clipPath><ellipse cx="436.7" cy="445.5" rx="18.2" ry="33.4" transform="rotate(-8 436.7 445.5)" fill="#d9d9d9" stroke="none" stroke-width="0"/><g clip-path="url(#cp38)"><ellipse cx="441.0" cy="463.7" rx="15.5" ry="14.4" transform="rotate(0 441.0 463.7)" fill="#2a2a2a" stroke="none" stroke-width="0"/></g><ellipse cx="436.7" cy="445.5" rx="18.2" ry="33.4" transform="rotate(-8 436.7 445.5)" fill="none" stroke="#1a1a1a" stroke-width="0.8"/><ellipse cx="465.5" cy="465.5" rx="10.7" ry="6.7" transform="rotate(-20 465.5 465.5)" fill="#cfcfcf" stroke="#777" stroke-width="0.6"/><clipPath id="cp39"><ellipse cx="482.9" cy="445.5" rx="6.9" ry="12.8" transform="rotate(0 482.9 445.5)"/></clipPath><ellipse cx="482.9" cy="445.5" rx="6.9" ry="12.8" transform="rotate(0 482.9 445.5)" fill="#d9d9d9" stroke="none" stroke-width="0"/><g clip-path="url(#cp39)"><ellipse cx="483.7" cy="446.8" rx="5.3" ry="9.6" transform="rotate(0 483.7 446.8)" fill="#111" stroke="none" stroke-width="0"/></g><ellipse cx="482.9" cy="445.5" rx="6.9" ry="12.8" transform="rotate(0 482.9 445.5)" fill="none" stroke="#1a1a1a" stroke-width="0.8"/><clipPath id="cp40"><ellipse cx="482.9" cy="475.4" rx="9.1" ry="16.0" transform="rotate(-10 482.9 475.4)"/></clipPath><ellipse cx="482.9" cy="475.4" rx="9.1" ry="16.0" transform="rotate(-10 482.9 475.4)" fill="#d9d9d9" stroke="none" stroke-width="0"/><g clip-path="url(#cp40)"><ellipse cx="484.2" cy="476.2" rx="7.2" ry="13.4" transform="rotate(0 484.2 476.2)" fill="#111" stroke="none" stroke-width="0"/></g><ellipse cx="482.9" cy="475.4" rx="9.1" ry="16.0" transform="rotate(-10 482.9 475.4)" fill="none" stroke="#1a1a1a" stroke-width="0.8"/></g><path d="M317.3 514.9 H341.4" stroke="#000" stroke-width="3" fill="none"/></g>
<g id="img_gfpA13T_1d" filter="url(#soft)"><clipPath id="cp63"><rect x="508.2" y="321.6" width="196.4" height="199.2"/></clipPath><g clip-path="url(#cp63)"><path d="M540.7 458.9 C539.8 452.6 539.2 442.8 540.7 437.5 C542.3 432.1 547.4 431.7 550.1 426.8 C552.7 421.9 555.2 414.3 556.7 408.1 C558.3 401.9 556.7 393.9 559.4 389.4 C562.1 385.0 569.2 384.5 572.8 381.4 C576.3 378.3 578.5 374.3 580.8 370.7 C583.0 367.2 582.5 361.8 586.1 360.1 C589.7 358.3 598.6 357.8 602.1 360.1 C605.7 362.3 603.9 370.5 607.5 373.4 C611.0 376.3 619.7 373.4 623.5 377.4 C627.3 381.4 627.1 391.9 630.2 397.4 C633.3 403.0 640.2 405.9 642.2 410.8 C644.2 415.7 642.0 421.0 642.2 426.8 C642.4 432.6 644.9 441.1 643.5 445.5 C642.2 450.0 637.5 450.8 634.2 453.5 C630.8 456.2 627.5 458.9 623.5 461.5 C619.5 464.2 612.8 466.0 610.1 469.5 C607.5 473.1 610.1 480.0 607.5 482.9 C604.8 485.8 599.9 486.0 594.1 486.9 C588.3 487.8 578.1 489.3 572.8 488.2 C567.4 487.1 566.5 482.4 562.1 480.2 C557.6 478.0 549.6 478.4 546.1 474.9 C542.5 471.3 541.6 465.1 540.7 458.9 Z" fill="#dedede" stroke="#444" stroke-width="0.6"/><ellipse cx="580.8" cy="374.7" rx="4.0" ry="3.6" transform="rotate(0 580.8 374.7)" fill="#dadada" stroke="#333" stroke-width="0.6"/><ellipse cx="585.0" cy="383.3" rx="4.5" ry="4.1" transform="rotate(0 585.0 383.3)" fill="#dadada" stroke="#333" stroke-width="0.6"/><ellipse cx="572.8" cy="384.1" rx="2.9" ry="2.6" transform="rotate(0 572.8 384.1)" fill="#dadada" stroke="#333" stroke-width="0.6"/><ellipse cx="576.0" cy="380.1" rx="2.4" ry="2.2" transform="rotate(0 576.0 380.1)" fill="#dadada" stroke="#333" stroke-width="0.6"/><ellipse cx="560.7" cy="390.8" rx="3.5" ry="3.1" transform="rotate(0 560.7 390.8)" fill="#dadada" stroke="#333" stroke-width="0.6"/><ellipse cx="567.9" cy="388.9" rx="2.7" ry="2.4" transform="rotate(0 567.9 388.9)" fill="#dadada" stroke="#333" stroke-width="0.6"/><ellipse cx="586.1" cy="397.4" rx="4.0" ry="3.6" transform="rotate(0 586.1 397.4)" fill="#dadada" stroke="#333" stroke-width="0.6"/><ellipse cx="592.0" cy="390.0" rx="2.7" ry="2.4" transform="rotate(0 592.0 390.0)" fill="#dadada" stroke="#333" stroke-width="0.6"/><ellipse cx="595.5" cy="396.1" rx="3.2" ry="2.9" transform="rotate(0 595.5 396.1)" fill="#dadada" stroke="#333" stroke-width="0.6"/><ellipse cx="548.7" cy="433.5" rx="3.5" ry="3.1" transform="rotate(0 548.7 433.5)" fill="#dadada" stroke="#333" stroke-width="0.6"/><ellipse cx="546.1" cy="445.5" rx="2.4" ry="2.2" transform="rotate(0 546.1 445.5)" fill="#dadada" stroke="#333" stroke-width="0.6"/><ellipse cx="543.4" cy="456.2" rx="3.5" ry="3.1" transform="rotate(0 543.4 456.2)" fill="#dadada" stroke="#333" stroke-width="0.6"/><ellipse cx="555.4" cy="457.5" rx="2.9" ry="2.6" transform="rotate(0 555.4 457.5)" fill="#dadada" stroke="#333" stroke-width="0.6"/><ellipse cx="568.8" cy="437.5" rx="3.7" ry="3.4" transform="rotate(0 568.8 437.5)" fill="#dadada" stroke="#333" stroke-width="0.6"/><ellipse cx="576.0" cy="441.5" rx="3.2" ry="2.9" transform="rotate(0 576.0 441.5)" fill="#dadada" stroke="#333" stroke-width="0.6"/><ellipse cx="563.4" cy="480.2" rx="2.7" ry="2.4" transform="rotate(0 563.4 480.2)" fill="#dadada" stroke="#333" stroke-width="0.6"/><ellipse cx="570.1" cy="473.5" rx="2.7" ry="2.4" transform="rotate(0 570.1 473.5)" fill="#dadada" stroke="#333" stroke-width="0.6"/><ellipse cx="614.1" cy="422.8" rx="3.5" ry="3.1" transform="rotate(0 614.1 422.8)" fill="#dadada" stroke="#333" stroke-width="0.6"/><ellipse cx="623.5" cy="399.6" rx="3.2" ry="2.9" transform="rotate(0 623.5 399.6)" fill="#dadada" stroke="#333" stroke-width="0.6"/><ellipse cx="602.1" cy="376.1" rx="3.2" ry="2.9" transform="rotate(0 602.1 376.1)" fill="#dadada" stroke="#333" stroke-width="0.6"/><ellipse cx="556.7" cy="410.8" rx="2.7" ry="2.4" transform="rotate(0 556.7 410.8)" fill="#dadada" stroke="#333" stroke-width="0.6"/><ellipse cx="555.4" cy="417.5" rx="2.4" ry="2.2" transform="rotate(0 555.4 417.5)" fill="#dadada" stroke="#333" stroke-width="0.6"/><ellipse cx="540.7" cy="436.2" rx="2.1" ry="1.9" transform="rotate(0 540.7 436.2)" fill="#dadada" stroke="#333" stroke-width="0.6"/><ellipse cx="551.9" cy="426.3" rx="2.7" ry="2.4" transform="rotate(0 551.9 426.3)" fill="#dadada" stroke="#333" stroke-width="0.6"/><clipPath id="cp42"><ellipse cx="592.8" cy="366.7" rx="12.8" ry="7.5" transform="rotate(-10 592.8 366.7)"/></clipPath><ellipse cx="592.8" cy="366.7" rx="12.8" ry="7.5" transform="rotate(-10 592.8 366.7)" fill="#c8c8c8" stroke="none" stroke-width="0"/><g clip-path="url(#cp42)"></g><ellipse cx="592.8" cy="366.7" rx="12.8" ry="7.5" transform="rotate(-10 592.8 366.7)" fill="none" stroke="#1a1a1a" stroke-width="0.8"/><clipPath id="cp43"><ellipse cx="619.5" cy="386.8" rx="8.0" ry="12.6" transform="rotate(-32 619.5 386.8)"/></clipPath><ellipse cx="619.5" cy="386.8" rx="8.0" ry="12.6" transform="rotate(-32 619.5 386.8)" fill="#d2d2d2" stroke="none" stroke-width="0"/><g clip-path="url(#cp43)"></g><ellipse cx="619.5" cy="386.8" rx="8.0" ry="12.6" transform="rotate(-32 619.5 386.8)" fill="none" stroke="#1a1a1a" stroke-width="0.8"/><clipPath id="cp44"><ellipse cx="602.1" cy="388.1" rx="13.9" ry="9.3" transform="rotate(40 602.1 388.1)"/></clipPath><ellipse cx="602.1" cy="388.1" rx="13.9" ry="9.3" transform="rotate(40 602.1 388.1)" fill="#d2d2d2" stroke="none" stroke-width="0"/><g clip-path="url(#cp44)"><ellipse cx="610.1" cy="395.3" rx="4.8" ry="4.8" transform="rotate(0 610.1 395.3)" fill="#111" stroke="none" stroke-width="0"/></g><ellipse cx="602.1" cy="388.1" rx="13.9" ry="9.3" transform="rotate(40 602.1 388.1)" fill="none" stroke="#1a1a1a" stroke-width="0.8"/><clipPath id="cp45"><ellipse cx="572.2" cy="402.8" rx="11.2" ry="8.0" transform="rotate(25 572.2 402.8)"/></clipPath><ellipse cx="572.2" cy="402.8" rx="11.2" ry="8.0" transform="rotate(25 572.2 402.8)" fill="#d2d2d2" stroke="none" stroke-width="0"/><g clip-path="url(#cp45)"></g><ellipse cx="572.2" cy="402.8" rx="11.2" ry="8.0" transform="rotate(25 572.2 402.8)" fill="none" stroke="#1a1a1a" stroke-width="0.8"/><clipPath id="cp46"><ellipse cx="618.1" cy="409.5" rx="10.7" ry="9.1" transform="rotate(0 618.1 409.5)"/></clipPath><ellipse cx="618.1" cy="409.5" rx="10.7" ry="9.1" transform="rotate(0 618.1 409.5)" fill="#b0b0b0" stroke="none" stroke-width="0"/><g clip-path="url(#cp46)"></g><ellipse cx="618.1" cy="409.5" rx="10.7" ry="9.1" transform="rotate(0 618.1 409.5)" fill="none" stroke="#1a1a1a" stroke-width="0.8"/><clipPath id="cp47"><ellipse cx="634.7" cy="410.8" rx="6.7" ry="12.8" transform="rotate(-8 634.7 410.8)"/></clipPath><ellipse cx="634.7" cy="410.8" rx="6.7" ry="12.8" transform="rotate(-8 634.7 410.8)" fill="#c8c8c8" stroke="none" stroke-width="0"/><g clip-path="url(#cp47)"></g><ellipse cx="634.7" cy="410.8" rx="6.7" ry="12.8" transform="rotate(-8 634.7 410.8)" fill="none" stroke="#1a1a1a" stroke-width="0.8"/><clipPath id="cp48"><ellipse cx="596.8" cy="410.8" rx="15.0" ry="9.6" transform="rotate(20 596.8 410.8)"/></clipPath><ellipse cx="596.8" cy="410.8" rx="15.0" ry="9.6" transform="rotate(20 596.8 410.8)" fill="#d2d2d2" stroke="none" stroke-width="0"/><g clip-path="url(#cp48)"><ellipse cx="607.5" cy="415.3" rx="5.3" ry="5.9" transform="rotate(0 607.5 415.3)" fill="#111" stroke="none" stroke-width="0"/></g><ellipse cx="596.8" cy="410.8" rx="15.0" ry="9.6" transform="rotate(20 596.8 410.8)" fill="none" stroke="#1a1a1a" stroke-width="0.8"/><clipPath id="cp49"><ellipse cx="562.1" cy="422.8" rx="8.0" ry="6.7" transform="rotate(40 562.1 422.8)"/></clipPath><ellipse cx="562.1" cy="422.8" rx="8.0" ry="6.7" transform="rotate(40 562.1 422.8)" fill="#d2d2d2" stroke="none" stroke-width="0"/><g clip-path="url(#cp49)"></g><ellipse cx="562.1" cy="422.8" rx="8.0" ry="6.7" transform="rotate(40 562.1 422.8)" fill="none" stroke="#1a1a1a" stroke-width="0.8"/><clipPath id="cp50"><ellipse cx="578.6" cy="422.8" rx="9.6" ry="8.0" transform="rotate(0 578.6 422.8)"/></clipPath><ellipse cx="578.6" cy="422.8" rx="9.6" ry="8.0" transform="rotate(0 578.6 422.8)" fill="#d2d2d2" stroke="none" stroke-width="0"/><g clip-path="url(#cp50)"><ellipse cx="590.9" cy="424.7" rx="3.7" ry="3.7" transform="rotate(0 590.9 424.7)" fill="#333" stroke="none" stroke-width="0"/></g><ellipse cx="578.6" cy="422.8" rx="9.6" ry="8.0" transform="rotate(0 578.6 422.8)" fill="none" stroke="#1a1a1a" stroke-width="0.8"/><clipPath id="cp51"><ellipse cx="607.5" cy="430.8" rx="10.1" ry="7.5" transform="rotate(15 607.5 430.8)"/></clipPath><ellipse cx="607.5" cy="430.8" rx="10.1" ry="7.5" transform="rotate(15 607.5 430.8)" fill="#d2d2d2" stroke="none" stroke-width="0"/><g clip-path="url(#cp51)"><ellipse cx="614.9" cy="435.4" rx="2.7" ry="2.7" transform="rotate(0 614.9 435.4)" fill="#333" stroke="none" stroke-width="0"/></g><ellipse cx="607.5" cy="430.8" rx="10.1" ry="7.5" transform="rotate(15 607.5 430.8)" fill="none" stroke="#1a1a1a" stroke-width="0.8"/><clipPath id="cp52"><ellipse cx="590.1" cy="436.2" rx="9.3" ry="6.7" transform="rotate(0 590.1 436.2)"/></clipPath><ellipse cx="590.1" cy="436.2" rx="9.3" ry="6.7" transform="rotate(0 590.1 436.2)" fill="#d2d2d2" stroke="none" stroke-width="0"/><g clip-path="url(#cp52)"></g><ellipse cx="590.1" cy="436.2" rx="9.3" ry="6.7" transform="rotate(0 590.1 436.2)" fill="none" stroke="#1a1a1a" stroke-width="0.8"/><clipPath id="cp53"><ellipse cx="630.2" cy="434.8" rx="12.8" ry="17.6" transform="rotate(-20 630.2 434.8)"/></clipPath><ellipse cx="630.2" cy="434.8" rx="12.8" ry="17.6" transform="rotate(-20 630.2 434.8)" fill="#d2d2d2" stroke="none" stroke-width="0"/><g clip-path="url(#cp53)"><ellipse cx="635.2" cy="443.4" rx="9.1" ry="6.9" transform="rotate(-20 635.2 443.4)" fill="#111" stroke="none" stroke-width="0"/></g><ellipse cx="630.2" cy="434.8" rx="12.8" ry="17.6" transform="rotate(-20 630.2 434.8)" fill="none" stroke="#1a1a1a" stroke-width="0.8"/><clipPath id="cp54"><ellipse cx="611.5" cy="450.8" rx="15.0" ry="11.2" transform="rotate(20 611.5 450.8)"/></clipPath><ellipse cx="611.5" cy="450.8" rx="15.0" ry="11.2" transform="rotate(20 611.5 450.8)" fill="#bcbcbc" stroke="none" stroke-width="0"/><g clip-path="url(#cp54)"><ellipse cx="618.7" cy="457.8" rx="6.9" ry="5.3" transform="rotate(0 618.7 457.8)" fill="#111" stroke="none" stroke-width="0"/></g><ellipse cx="611.5" cy="450.8" rx="15.0" ry="11.2" transform="rotate(20 611.5 450.8)" fill="none" stroke="#1a1a1a" stroke-width="0.8"/><clipPath id="cp55"><ellipse cx="588.8" cy="453.5" rx="13.4" ry="10.1" transform="rotate(30 588.8 453.5)"/></clipPath><ellipse cx="588.8" cy="453.5" rx="13.4" ry="10.1" transform="rotate(30 588.8 453.5)" fill="#d2d2d2" stroke="none" stroke-width="0"/><g clip-path="url(#cp55)"><ellipse cx="598.4" cy="460.5" rx="5.3" ry="5.3" transform="rotate(0 598.4 460.5)" fill="#111" stroke="none" stroke-width="0"/></g><ellipse cx="588.8" cy="453.5" rx="13.4" ry="10.1" transform="rotate(30 588.8 453.5)" fill="none" stroke="#1a1a1a" stroke-width="0.8"/><clipPath id="cp56"><ellipse cx="560.7" cy="445.5" rx="13.4" ry="10.1" transform="rotate(30 560.7 445.5)"/></clipPath><ellipse cx="560.7" cy="445.5" rx="13.4" ry="10.1" transform="rotate(30 560.7 445.5)" fill="#d2d2d2" stroke="none" stroke-width="0"/><g clip-path="url(#cp56)"><ellipse cx="569.6" cy="451.4" rx="5.9" ry="5.9" transform="rotate(0 569.6 451.4)" fill="#111" stroke="none" stroke-width="0"/></g><ellipse cx="560.7" cy="445.5" rx="13.4" ry="10.1" transform="rotate(30 560.7 445.5)" fill="none" stroke="#1a1a1a" stroke-width="0.8"/><clipPath id="cp57"><ellipse cx="554.1" cy="468.2" rx="11.2" ry="7.5" transform="rotate(20 554.1 468.2)"/></clipPath><ellipse cx="554.1" cy="468.2" rx="11.2" ry="7.5" transform="rotate(20 554.1 468.2)" fill="#d2d2d2" stroke="none" stroke-width="0"/><g clip-path="url(#cp57)"></g><ellipse cx="554.1" cy="468.2" rx="11.2" ry="7.5" transform="rotate(20 554.1 468.2)" fill="none" stroke="#1a1a1a" stroke-width="0.8"/><clipPath id="cp58"><ellipse cx="575.4" cy="465.5" rx="10.7" ry="7.5" transform="rotate(20 575.4 465.5)"/></clipPath><ellipse cx="575.4" cy="465.5" rx="10.7" ry="7.5" transform="rotate(20 575.4 465.5)" fill="#d2d2d2" stroke="none" stroke-width="0"/><g clip-path="url(#cp58)"><ellipse cx="585.0" cy="468.7" rx="2.7" ry="3.2" transform="rotate(0 585.0 468.7)" fill="#333" stroke="none" stroke-width="0"/></g><ellipse cx="575.4" cy="465.5" rx="10.7" ry="7.5" transform="rotate(20 575.4 465.5)" fill="none" stroke="#1a1a1a" stroke-width="0.8"/><clipPath id="cp59"><ellipse cx="595.5" cy="477.5" rx="13.9" ry="8.5" transform="rotate(-15 595.5 477.5)"/></clipPath><ellipse cx="595.5" cy="477.5" rx="13.9" ry="8.5" transform="rotate(-15 595.5 477.5)" fill="#d2d2d2" stroke="none" stroke-width="0"/><g clip-path="url(#cp59)"><ellipse cx="604.8" cy="472.7" rx="4.8" ry="5.3" transform="rotate(0 604.8 472.7)" fill="#111" stroke="none" stroke-width="0"/></g><ellipse cx="595.5" cy="477.5" rx="13.9" ry="8.5" transform="rotate(-15 595.5 477.5)" fill="none" stroke="#1a1a1a" stroke-width="0.8"/><clipPath id="cp60"><ellipse cx="572.8" cy="481.5" rx="9.3" ry="5.9" transform="rotate(-5 572.8 481.5)"/></clipPath><ellipse cx="572.8" cy="481.5" rx="9.3" ry="5.9" transform="rotate(-5 572.8 481.5)" fill="#d2d2d2" stroke="none" stroke-width="0"/><g clip-path="url(#cp60)"></g><ellipse cx="572.8" cy="481.5" rx="9.3" ry="5.9" transform="rotate(-5 572.8 481.5)" fill="none" stroke="#1a1a1a" stroke-width="0.8"/><path d="M625.6 455.6 Q646.2 448.2 661.7 459.4" stroke="#bdbdbd" stroke-width="5" fill="none" stroke-linecap="round"/><path d="M625.6 453.5 Q646.2 445.5 662.5 456.7" stroke="#777" stroke-width="0.7" fill="none"/><clipPath id="cp62"><rect x="632.8" y="464.2" width="30.2" height="24.6"/></clipPath><g clip-path="url(#cp62)"><rect x="632.8" y="464.2" width="30.2" height="24.6" fill="#f4f4f4"/><clipPath id="cp61"><ellipse cx="651.5" cy="481.5" rx="13.4" ry="18.7" transform="rotate(18 651.5 481.5)"/></clipPath><ellipse cx="651.5" cy="481.5" rx="13.4" ry="18.7" transform="rotate(18 651.5 481.5)" fill="#d0d0d0" stroke="none" stroke-width="0"/><g clip-path="url(#cp61)"><ellipse cx="653.4" cy="472.7" rx="10.7" ry="8.5" transform="rotate(18 653.4 472.7)" fill="#0c0c0c" stroke="none" stroke-width="0"/></g><ellipse cx="651.5" cy="481.5" rx="13.4" ry="18.7" transform="rotate(18 651.5 481.5)" fill="none" stroke="#111" stroke-width="1.2"/></g></g><path d="M530.6 514.4 H554.1" stroke="#000" stroke-width="3" fill="none"/></g>
<g id="img_wt_7d" filter="url(#soft)"><clipPath id="cp64"><rect x="111.5" y="523.0" width="196.0" height="188.4"/></clipPath><g clip-path="url(#cp64)"><path d="M238.1 528.6 C243.7 530.1 255.2 536.6 262.1 543.0 C269.1 549.4 275.5 561.6 279.7 567.1 C284.0 572.5 288.8 573.6 287.8 575.9 C286.7 578.2 281.6 580.7 273.3 580.7 C265.1 580.7 249.0 574.3 238.1 575.9 C227.1 577.5 213.0 591.1 207.6 590.3 C202.3 589.5 204.4 577.8 206.0 571.1 C207.6 564.4 213.5 556.4 217.2 550.2 C221.0 544.1 225.0 537.8 228.5 534.2 C231.9 530.6 232.5 527.1 238.1 528.6 Z" fill="#efefef" stroke="#333" stroke-width="0.6"/><path d="M207.6 575.9 C209.4 570.5 213.2 563.6 217.2 559.9 C221.2 556.1 227.4 554.2 231.7 553.4 C235.9 552.6 239.1 555.6 242.9 555.1 C246.6 554.5 250.4 549.2 254.1 550.2 C257.8 551.3 261.0 558.0 265.3 561.5 C269.6 564.9 275.2 568.7 279.7 571.1 C284.3 573.5 289.8 571.1 292.6 575.9 C295.4 580.7 297.2 592.2 296.6 599.9 C295.9 607.7 292.3 615.7 288.6 622.4 C284.8 629.0 279.1 637.3 274.1 640.0 C269.2 642.7 263.1 639.7 258.9 638.7 C254.8 637.7 254.1 635.0 249.3 633.9 C244.5 632.8 234.6 635.8 230.1 632.3 C225.5 628.8 225.9 619.5 222.1 612.7 C218.2 606.0 209.2 598.1 206.8 591.9 C204.4 585.8 205.9 581.2 207.6 575.9 Z" fill="#6c6c6c" stroke="#111" stroke-width="0.8"/><path d="M210.8 571.1 L238.1 529.4 M222.1 564.7 L244.5 532.6 M231.7 559.9 L238.1 529.4 M242.9 558.3 L244.5 532.6 M254.1 555.1 L238.1 529.4 M263.7 561.5 L244.5 532.6 M273.3 569.5 L254.1 539.0 M226.9 535.8 L257.3 575.9 M218.8 548.6 L242.9 575.9 M238.1 529.4 L279.7 569.5 M212.4 563.1 L230.1 571.1 M250.9 535.8 L273.3 559.9" stroke="#222" stroke-width="0.55" fill="none"/><ellipse cx="217.2" cy="572.7" rx="20.0" ry="6.7" transform="rotate(-115.145 217.2 572.7)" fill="#7e7e7e" stroke="#0a0a0a" stroke-width="1"/><ellipse cx="230.1" cy="577.5" rx="24.0" ry="7.1" transform="rotate(-108.06 230.1 577.5)" fill="#5d5d5d" stroke="#0a0a0a" stroke-width="1"/><ellipse cx="242.9" cy="572.7" rx="25.6" ry="7.1" transform="rotate(-98.1301 242.9 572.7)" fill="#6d6d6d" stroke="#0a0a0a" stroke-width="1"/><ellipse cx="255.7" cy="569.5" rx="24.0" ry="7.4" transform="rotate(-88.8767 255.7 569.5)" fill="#5a5a5a" stroke="#0a0a0a" stroke-width="1"/><ellipse cx="268.5" cy="585.5" rx="24.0" ry="7.1" transform="rotate(-77.6192 268.5 585.5)" fill="#5f5f5f" stroke="#0a0a0a" stroke-width="1"/><ellipse cx="279.7" cy="591.9" rx="20.8" ry="6.4" transform="rotate(-66.6148 279.7 591.9)" fill="#666666" stroke="#0a0a0a" stroke-width="1"/><ellipse cx="291.0" cy="598.3" rx="17.6" ry="6.1" transform="rotate(-55.1247 291.0 598.3)" fill="#525252" stroke="#0a0a0a" stroke-width="1"/><ellipse cx="222.1" cy="599.9" rx="17.6" ry="6.1" transform="rotate(-122.005 222.1 599.9)" fill="#5f5f5f" stroke="#0a0a0a" stroke-width="1"/><ellipse cx="238.1" cy="619.2" rx="16.8" ry="7.1" transform="rotate(-116.565 238.1 619.2)" fill="#616161" stroke="#0a0a0a" stroke-width="1"/><ellipse cx="252.5" cy="612.7" rx="19.2" ry="7.1" transform="rotate(-92.3859 252.5 612.7)" fill="#686868" stroke="#0a0a0a" stroke-width="1"/><ellipse cx="265.3" cy="620.8" rx="16.8" ry="6.4" transform="rotate(-69.7751 265.3 620.8)" fill="#5f5f5f" stroke="#0a0a0a" stroke-width="1"/><ellipse cx="279.7" cy="628.0" rx="16.0" ry="6.7" transform="rotate(-42.1844 279.7 628.0)" fill="#595959" stroke="#0a0a0a" stroke-width="1"/><ellipse cx="289.0" cy="571.1" rx="9.6" ry="4.8" transform="rotate(85 289.0 571.1)" fill="#bdbdbd" stroke="#111" stroke-width="0.9"/><ellipse cx="224.5" cy="563.1" rx="3.5" ry="4.6" fill="#e6e6e6"/><ellipse cx="238.1" cy="557.5" rx="3.5" ry="4.6" fill="#e6e6e6"/><ellipse cx="245.3" cy="551.8" rx="2.2" ry="2.9" fill="#e6e6e6"/><ellipse cx="265.3" cy="567.9" rx="3.2" ry="4.2" fill="#e6e6e6"/><ellipse cx="273.3" cy="575.9" rx="2.6" ry="3.3" fill="#e6e6e6"/><ellipse cx="212.4" cy="575.9" rx="2.6" ry="3.3" fill="#e6e6e6"/><ellipse cx="226.5" cy="547.0" rx="2.6" ry="3" fill="#1c1c1c"/><ellipse cx="241.0" cy="547.8" rx="2.6" ry="3" fill="#1c1c1c"/><ellipse cx="250.6" cy="548.6" rx="2.6" ry="3" fill="#1c1c1c"/><ellipse cx="262.4" cy="563.1" rx="2.6" ry="3" fill="#1c1c1c"/><ellipse cx="269.8" cy="559.9" rx="2.6" ry="3" fill="#1c1c1c"/><ellipse cx="215.6" cy="576.7" rx="2.6" ry="3" fill="#1c1c1c"/><ellipse cx="288.1" cy="577.5" rx="2.6" ry="3" fill="#1c1c1c"/><ellipse cx="212.4" cy="566.3" rx="2.6" ry="3" fill="#1c1c1c"/><path d="M141.9 594.3 C145.0 590.9 150.6 588.7 158.7 586.8 C166.8 585.0 182.7 582.5 190.5 583.1 C198.3 583.7 199.2 585.0 205.5 590.6 C211.7 596.2 222.3 608.3 227.9 616.7 C233.5 625.1 238.2 634.8 239.1 641.0 C240.0 647.3 236.3 650.7 233.5 654.1 C230.7 657.5 223.5 658.8 222.3 661.6 C221.0 664.4 227.0 667.5 226.0 670.9 C225.1 674.4 221.7 679.7 216.7 682.1 C211.7 684.6 197.4 684.6 196.1 685.9 C194.9 687.1 208.0 688.1 209.2 689.6 C210.4 691.2 207.3 694.0 203.6 695.2 C199.9 696.5 191.8 697.7 186.8 697.1 C181.8 696.5 174.6 693.7 173.7 691.5 C172.7 689.3 182.1 686.2 181.2 684.0 C180.2 681.8 172.4 681.2 168.1 678.4 C163.7 675.6 155.9 670.3 155.0 667.2 C154.1 664.1 161.8 662.8 162.5 659.7 C163.1 656.6 158.1 651.6 158.7 648.5 C159.4 645.4 167.8 643.8 166.2 641.0 C164.6 638.2 153.7 637.3 149.4 631.7 C145.0 626.1 141.3 613.6 140.0 607.4 C138.8 601.2 138.8 597.7 141.9 594.3 Z" fill="#707070" stroke="#111" stroke-width="0.8"/><path d="M143.8 592.4 C145.0 589.6 152.8 583.7 160.6 581.2 C168.4 578.7 183.0 576.9 190.5 577.5 C198.0 578.1 205.1 582.8 205.5 585.0 C205.8 587.1 198.6 589.3 192.4 590.6 C186.1 591.8 174.6 591.2 168.1 592.4 C161.5 593.7 157.2 598.0 153.1 598.0 C149.1 598.0 142.5 595.2 143.8 592.4 Z" fill="#e4e4e4" stroke="#444" stroke-width="0.6"/><ellipse cx="155.0" cy="610.2" rx="18.7" ry="5.6" transform="rotate(52 155.0 610.2)" fill="#5a5a5a" stroke="#0a0a0a" stroke-width="1"/><ellipse cx="166.2" cy="604.6" rx="17.8" ry="6.2" transform="rotate(40 166.2 604.6)" fill="#5f5f5f" stroke="#0a0a0a" stroke-width="1"/><ellipse cx="173.7" cy="626.1" rx="16.8" ry="7.1" transform="rotate(62 173.7 626.1)" fill="#757575" stroke="#0a0a0a" stroke-width="1"/><ellipse cx="186.8" cy="599.9" rx="15.0" ry="6.2" transform="rotate(30 186.8 599.9)" fill="#646464" stroke="#0a0a0a" stroke-width="1"/><ellipse cx="194.2" cy="618.6" rx="15.9" ry="6.4" transform="rotate(35 194.2 618.6)" fill="#5d5d5d" stroke="#0a0a0a" stroke-width="1"/><ellipse cx="205.5" cy="608.3" rx="16.8" ry="7.1" transform="rotate(50 205.5 608.3)" fill="#737373" stroke="#0a0a0a" stroke-width="1"/><ellipse cx="216.7" cy="631.7" rx="18.7" ry="7.1" transform="rotate(55 216.7 631.7)" fill="#5a5a5a" stroke="#0a0a0a" stroke-width="1"/><ellipse cx="229.8" cy="636.4" rx="16.4" ry="6.2" transform="rotate(60 229.8 636.4)" fill="#616161" stroke="#0a0a0a" stroke-width="1"/><ellipse cx="190.5" cy="637.3" rx="16.8" ry="6.2" transform="rotate(25 190.5 637.3)" fill="#6c6c6c" stroke="#0a0a0a" stroke-width="1"/><ellipse cx="199.9" cy="650.7" rx="16.8" ry="6.2" transform="rotate(30 199.9 650.7)" fill="#7e7e7e" stroke="#0a0a0a" stroke-width="1"/><ellipse cx="177.4" cy="654.5" rx="15.0" ry="5.6" transform="rotate(35 177.4 654.5)" fill="#646464" stroke="#0a0a0a" stroke-width="1"/><ellipse cx="209.2" cy="663.8" rx="15.0" ry="6.2" transform="rotate(10 209.2 663.8)" fill="#5d5d5d" stroke="#0a0a0a" stroke-width="1"/><ellipse cx="186.8" cy="671.3" rx="13.1" ry="5.2" transform="rotate(20 186.8 671.3)" fill="#5f5f5f" stroke="#0a0a0a" stroke-width="1"/><ellipse cx="168.1" cy="675.0" rx="15.9" ry="6.4" transform="rotate(35 168.1 675.0)" fill="#6c6c6c" stroke="#0a0a0a" stroke-width="1"/><ellipse cx="211.1" cy="673.2" rx="15.0" ry="6.7" transform="rotate(-15 211.1 673.2)" fill="#646464" stroke="#0a0a0a" stroke-width="1"/><ellipse cx="194.2" cy="690.0" rx="14.0" ry="5.2" transform="rotate(-8 194.2 690.0)" fill="#545454" stroke="#0a0a0a" stroke-width="1"/><ellipse cx="149.4" cy="616.7" rx="15.9" ry="2.2" transform="rotate(62 149.4 616.7)" fill="#f4f4f4" stroke="none" stroke-width="0"/><ellipse cx="134.4" cy="620.5" rx="20.2" ry="6.4" transform="rotate(75 134.4 620.5)" fill="#787878" stroke="#111" stroke-width="0.9"/><path d="M125.1 601.8 C126.6 599.0 130.1 594.0 132.6 596.2 C135.1 598.3 138.0 608.3 140.0 614.9 C142.1 621.4 145.0 630.7 144.7 635.4 C144.4 640.1 140.8 643.5 138.2 642.9 C135.5 642.3 131.3 636.7 128.8 631.7 C126.3 626.7 123.8 618.0 123.2 613.0 C122.6 608.0 123.5 604.6 125.1 601.8 Z" fill="none" stroke="#555" stroke-width="0.6"/><path d="M123.2 682.1 C123.8 679.7 130.1 674.0 134.4 670.9 C138.8 667.8 145.0 664.1 149.4 663.5 C153.7 662.8 159.7 665.0 160.6 667.2 C161.5 669.4 158.4 674.4 155.0 676.5 C151.6 678.7 144.1 678.7 140.0 680.3 C136.0 681.8 133.5 685.6 130.7 685.9 C127.9 686.2 122.6 684.6 123.2 682.1 Z" fill="#f0f0f0" stroke="#777" stroke-width="0.6"/><ellipse cx="151.3" cy="676.5" rx="8.4" ry="5.6" transform="rotate(20 151.3 676.5)" fill="#c4c4c4" stroke="#555" stroke-width="0.6"/><ellipse cx="161.5" cy="680.7" rx="5.2" ry="3.7" transform="rotate(30 161.5 680.7)" fill="#3a3a3a" stroke="none" stroke-width="0"/><ellipse cx="175.6" cy="689.6" rx="4.1" ry="3.4" transform="rotate(0 175.6 689.6)" fill="#2a2a2a" stroke="none" stroke-width="0"/><path d="M224.1 657.9 C226.6 655.0 238.2 651.3 242.8 650.4 C247.5 649.4 250.5 650.1 252.0 652.2 C253.5 654.4 253.8 661.0 252.0 663.5 C250.2 666.0 245.0 666.6 241.0 667.2 C237.0 667.8 230.7 668.8 227.9 667.2 C225.1 665.6 221.7 660.7 224.1 657.9 Z" fill="#f4f4f4" stroke="none" stroke-width="0"/><path d="M278.9 560.2 Q292.6 559.5 309.4 551.8" stroke="#222" stroke-width="1.7" fill="none"/><path d="M284.6 537.4 L287.8 558.3 M294.2 537.4 L291.0 558.3 M289.4 539.0 L295.8 555.1" stroke="#999" stroke-width="0.7" fill="none"/><path d="M192.4 695.2 L191.4 712.1 M199.9 695.2 L201.7 712.1" stroke="#c4c4c4" stroke-width="0.8" fill="none"/><path d="M289.4 633.5 L300.1 639.6 L292.6 645.0 Z" fill="#000"/><path d="M225.4 681.5 L236.6 687.7 L229.1 693.0 Z" fill="#000"/><path d="M204.0 696.8 L215.2 703.2 L207.7 708.5 Z" fill="#000"/><path d="M119.3 690.1 H126.6" stroke="#000" stroke-width="2.6" fill="none"/><circle cx="150.1" cy="695.2" r="4.3" fill="#fff" stroke="#000" stroke-width="3.4"/></g></g>
<g id="img_gfp_7d" filter="url(#soft)"><clipPath id="cp65"><rect x="309.5" y="523.0" width="196.1" height="188.4"/></clipPath><g clip-path="url(#cp65)"><path d="M318.7 623.1 C319.6 613.2 323.8 605.5 329.4 599.8 C335.1 594.2 344.3 590.0 352.7 589.1 C361.0 588.2 371.4 591.5 379.5 594.5 C387.5 597.4 395.5 600.4 400.9 607.0 C406.3 613.5 410.4 625.1 411.6 633.8 C412.8 642.4 411.0 651.0 408.1 658.8 C405.1 666.5 397.9 673.7 393.8 680.2 C389.6 686.8 389.0 695.1 383.0 698.1 C377.1 701.1 365.5 700.5 358.0 698.1 C350.6 695.7 344.0 690.4 338.4 683.8 C332.7 677.2 327.4 668.9 324.1 658.8 C320.8 648.7 317.8 632.9 318.7 623.1 Z" fill="#f1f1f1" stroke="#aaa" stroke-width="0.5"/><path d="M324.1 603.4 C326.8 595.7 336.6 592.7 343.7 590.9 C350.9 589.1 358.6 590.0 367.0 592.7 C375.3 595.4 386.9 600.1 393.8 607.0 C400.6 613.8 406.3 625.1 408.1 633.8 C409.8 642.4 407.2 651.6 404.5 658.8 C401.8 665.9 396.1 670.7 392.0 676.7 C387.8 682.6 385.1 691.5 379.5 694.5 C373.8 697.5 364.0 696.9 358.0 694.5 C352.1 692.1 347.6 685.6 343.7 680.2 C339.9 674.9 337.5 669.5 334.8 662.4 C332.1 655.2 329.4 647.2 327.7 637.3 C325.9 627.5 321.4 611.1 324.1 603.4 Z" fill="#a4a4a4" stroke="#333" stroke-width="0.6"/><ellipse cx="319.6" cy="575.7" rx="22.3" ry="8.0" transform="rotate(-67 319.6 575.7)" fill="#8a8a8a" stroke="#111" stroke-width="0.9"/><ellipse cx="340.2" cy="579.3" rx="16.1" ry="8.0" transform="rotate(63 340.2 579.3)" fill="#9c9c9c" stroke="#111" stroke-width="0.9"/><ellipse cx="314.3" cy="607.0" rx="12.5" ry="8.9" transform="rotate(20 314.3 607.0)" fill="#9a9a9a" stroke="#111" stroke-width="0.9"/><ellipse cx="334.8" cy="623.1" rx="21.4" ry="7.1" transform="rotate(66 334.8 623.1)" fill="#6e6e6e" stroke="#111" stroke-width="0.9"/><ellipse cx="345.5" cy="608.8" rx="21.4" ry="7.1" transform="rotate(58 345.5 608.8)" fill="#808080" stroke="#111" stroke-width="0.9"/><ellipse cx="367.0" cy="608.8" rx="19.7" ry="8.9" transform="rotate(53 367.0 608.8)" fill="#8a8a8a" stroke="#111" stroke-width="0.9"/><ellipse cx="386.6" cy="628.4" rx="26.8" ry="7.1" transform="rotate(72 386.6 628.4)" fill="#b2b2b2" stroke="#111" stroke-width="0.9"/><ellipse cx="400.9" cy="632.0" rx="25.0" ry="7.1" transform="rotate(76 400.9 632.0)" fill="#909090" stroke="#111" stroke-width="0.9"/><ellipse cx="367.0" cy="630.2" rx="12.5" ry="7.1" transform="rotate(60 367.0 630.2)" fill="#aaaaaa" stroke="#111" stroke-width="0.9"/><ellipse cx="347.3" cy="667.7" rx="14.3" ry="8.9" transform="rotate(30 347.3 667.7)" fill="#c8c8c8" stroke="#111" stroke-width="0.9"/><ellipse cx="377.7" cy="646.3" rx="17.9" ry="7.1" transform="rotate(35 377.7 646.3)" fill="#9a9a9a" stroke="#111" stroke-width="0.9"/><ellipse cx="377.7" cy="663.3" rx="19.7" ry="9.8" transform="rotate(25 377.7 663.3)" fill="#7e7e7e" stroke="#111" stroke-width="0.9"/><ellipse cx="374.1" cy="689.2" rx="20.5" ry="8.0" transform="rotate(-5 374.1 689.2)" fill="#8a8a8a" stroke="#111" stroke-width="0.9"/><ellipse cx="356.2" cy="633.8" rx="6.8" ry="5.7" transform="rotate(0 356.2 633.8)" fill="#111" stroke="none" stroke-width="0"/><ellipse cx="356.2" cy="654.3" rx="8.0" ry="10.4" transform="rotate(10 356.2 654.3)" fill="#111" stroke="none" stroke-width="0"/><ellipse cx="365.2" cy="674.0" rx="7.5" ry="4.6" transform="rotate(30 365.2 674.0)" fill="#3a3a3a" stroke="none" stroke-width="0"/><ellipse cx="345.5" cy="682.0" rx="5.0" ry="4.3" transform="rotate(0 345.5 682.0)" fill="#111" stroke="none" stroke-width="0"/><ellipse cx="334.8" cy="664.1" rx="3.6" ry="3.2" transform="rotate(0 334.8 664.1)" fill="#111" stroke="none" stroke-width="0"/><ellipse cx="326.8" cy="651.6" rx="2.3" ry="2.1" transform="rotate(0 326.8 651.6)" fill="#222" stroke="none" stroke-width="0"/><ellipse cx="395.5" cy="615.9" rx="3.2" ry="9.3" transform="rotate(-10 395.5 615.9)" fill="#222" stroke="none" stroke-width="0"/><ellipse cx="349.1" cy="594.5" rx="2.1" ry="5.4" transform="rotate(-20 349.1 594.5)" fill="#111" stroke="none" stroke-width="0"/><ellipse cx="327.7" cy="607.0" rx="1.8" ry="7.1" transform="rotate(-20 327.7 607.0)" fill="#222" stroke="none" stroke-width="0"/><ellipse cx="340.2" cy="599.8" rx="1.8" ry="6.3" transform="rotate(-25 340.2 599.8)" fill="#222" stroke="none" stroke-width="0"/><ellipse cx="357.1" cy="692.7" rx="5.0" ry="2.1" transform="rotate(5 357.1 692.7)" fill="#111" stroke="none" stroke-width="0"/><path d="M323.2 559.6 Q329.4 551.6 337.5 552.5" stroke="#111" stroke-width="1.4" fill="none"/><path d="M413.4 540.0 L407.2 563.2" stroke="#d0d0d0" stroke-width="1.2" fill="none"/><path d="M402.1 594.5 C404.2 589.1 409.0 582.6 412.9 576.6 C416.7 570.6 420.9 562.9 425.4 558.7 C429.8 554.6 435.8 551.1 439.7 551.6 C443.5 552.0 442.9 559.2 448.6 561.4 C454.3 563.6 465.9 562.5 473.6 565.0 C481.4 567.5 489.9 571.1 495.1 576.6 C500.2 582.1 503.1 590.3 504.3 598.0 C505.6 605.8 504.1 615.3 502.6 623.1 C501.0 630.8 498.1 637.6 495.1 644.5 C492.0 651.3 489.7 659.1 484.3 664.1 C479.0 669.2 470.3 672.8 462.9 674.9 C455.4 677.0 445.9 678.1 439.7 676.7 C433.4 675.2 429.8 669.5 425.4 665.9 C420.9 662.4 416.1 661.2 412.9 655.2 C409.6 649.3 407.8 637.9 405.7 630.2 C403.6 622.5 401.0 614.7 400.4 608.8 C399.8 602.8 400.1 599.8 402.1 594.5 Z" fill="#f3f3f3" stroke="#999" stroke-width="0.5"/><path d="M403.9 598.0 C405.1 590.0 410.2 586.7 414.7 582.0 C419.1 577.2 425.1 572.1 430.7 569.5 C436.4 566.8 442.0 565.6 448.6 565.9 C455.2 566.2 464.7 568.6 470.0 571.2 C475.4 573.9 477.8 576.6 480.8 582.0 C483.7 587.3 486.1 596.6 487.9 603.4 C489.7 610.2 491.5 616.2 491.5 623.1 C491.5 629.9 490.3 637.9 487.9 644.5 C485.5 651.0 481.7 657.9 477.2 662.4 C472.7 666.8 467.1 669.2 461.1 671.3 C455.2 673.4 447.1 676.1 441.5 674.9 C435.8 673.7 431.6 667.7 427.2 664.1 C422.7 660.6 417.9 659.1 414.7 653.4 C411.4 647.8 409.3 639.4 407.5 630.2 C405.7 621.0 402.7 606.1 403.9 598.0 Z" fill="#a2a2a2" stroke="#333" stroke-width="0.6"/><ellipse cx="407.5" cy="615.9" rx="23.2" ry="6.3" transform="rotate(-80 407.5 615.9)" fill="#808080" stroke="#111" stroke-width="0.9"/><ellipse cx="425.4" cy="569.5" rx="17.9" ry="7.1" transform="rotate(-55 425.4 569.5)" fill="#9a9a9a" stroke="#111" stroke-width="0.9"/><ellipse cx="420.0" cy="608.8" rx="30.4" ry="7.1" transform="rotate(-65 420.0 608.8)" fill="#6a6a6a" stroke="#111" stroke-width="0.9"/><ellipse cx="430.7" cy="623.1" rx="30.4" ry="8.0" transform="rotate(-50 430.7 623.1)" fill="#7a7a7a" stroke="#111" stroke-width="0.9"/><ellipse cx="448.6" cy="594.5" rx="26.8" ry="8.9" transform="rotate(-35 448.6 594.5)" fill="#9a9a9a" stroke="#111" stroke-width="0.9"/><ellipse cx="466.5" cy="605.2" rx="17.9" ry="10.7" transform="rotate(-20 466.5 605.2)" fill="#b4b4b4" stroke="#111" stroke-width="0.9"/><ellipse cx="454.0" cy="623.1" rx="30.4" ry="9.8" transform="rotate(-35 454.0 623.1)" fill="#a0a0a0" stroke="#111" stroke-width="0.9"/><ellipse cx="454.0" cy="648.1" rx="28.6" ry="8.9" transform="rotate(-20 454.0 648.1)" fill="#a6a6a6" stroke="#111" stroke-width="0.9"/><ellipse cx="448.6" cy="664.1" rx="23.2" ry="8.9" transform="rotate(-8 448.6 664.1)" fill="#9a9a9a" stroke="#111" stroke-width="0.9"/><ellipse cx="445.0" cy="671.7" rx="17.9" ry="5.0" transform="rotate(5 445.0 671.7)" fill="#b2b2b2" stroke="#111" stroke-width="0.9"/><ellipse cx="443.2" cy="565.9" rx="5.4" ry="3.2" transform="rotate(-20 443.2 565.9)" fill="#111" stroke="none" stroke-width="0"/><ellipse cx="466.5" cy="567.7" rx="7.1" ry="2.7" transform="rotate(-20 466.5 567.7)" fill="#111" stroke="none" stroke-width="0"/><ellipse cx="473.6" cy="576.6" rx="5.4" ry="4.5" transform="rotate(-20 473.6 576.6)" fill="#111" stroke="none" stroke-width="0"/><ellipse cx="446.8" cy="583.7" rx="7.1" ry="4.5" transform="rotate(-35 446.8 583.7)" fill="#111" stroke="none" stroke-width="0"/><ellipse cx="457.5" cy="605.2" rx="7.1" ry="5.4" transform="rotate(-30 457.5 605.2)" fill="#111" stroke="none" stroke-width="0"/><ellipse cx="471.8" cy="601.6" rx="6.3" ry="4.5" transform="rotate(-20 471.8 601.6)" fill="#111" stroke="none" stroke-width="0"/><ellipse cx="471.8" cy="621.3" rx="8.0" ry="5.4" transform="rotate(-10 471.8 621.3)" fill="#111" stroke="none" stroke-width="0"/><ellipse cx="489.7" cy="621.3" rx="8.0" ry="4.5" transform="rotate(-15 489.7 621.3)" fill="#111" stroke="none" stroke-width="0"/><ellipse cx="493.3" cy="605.2" rx="5.4" ry="2.7" transform="rotate(-30 493.3 605.2)" fill="#111" stroke="none" stroke-width="0"/><ellipse cx="484.3" cy="639.1" rx="8.9" ry="5.4" transform="rotate(-15 484.3 639.1)" fill="#111" stroke="none" stroke-width="0"/><ellipse cx="473.6" cy="660.6" rx="9.8" ry="3.9" transform="rotate(-20 473.6 660.6)" fill="#111" stroke="none" stroke-width="0"/><ellipse cx="487.9" cy="594.5" rx="2.7" ry="1.8" transform="rotate(0 487.9 594.5)" fill="#111" stroke="none" stroke-width="0"/><ellipse cx="423.6" cy="605.2" rx="2.1" ry="26.8" transform="rotate(25 423.6 605.2)" fill="#111" stroke="none" stroke-width="0"/><ellipse cx="434.3" cy="607.0" rx="1.8" ry="19.7" transform="rotate(22 434.3 607.0)" fill="#111" stroke="none" stroke-width="0"/><ellipse cx="448.6" cy="623.1" rx="1.8" ry="12.5" transform="rotate(40 448.6 623.1)" fill="#111" stroke="none" stroke-width="0"/><ellipse cx="500.4" cy="596.3" rx="4.5" ry="1.4" transform="rotate(-35 500.4 596.3)" fill="#111" stroke="none" stroke-width="0"/><path d="M437.5 559.6 L451.3 544.4" stroke="#111" stroke-width="1.6" fill="none"/><path d="M413.8 540.0 Q407.5 549.8 408.4 561.4" stroke="#d4d4d4" stroke-width="1.2" fill="none"/><path d="M335.7 537.3 L344.6 540.9 L336.6 549.8 Z" fill="#000"/><path d="M358.0 577.5 L367.0 581.1 L358.9 590.0 Z" fill="#000"/><path d="M387.5 697.2 L397.3 702.6 L391.1 708.8 Z" fill="#000"/><path d="M447.2 531.0 L456.6 535.5 L447.7 543.5 Z" fill="#000"/><path d="M317.3 690.1 H324.1" stroke="#000" stroke-width="2.6" fill="none"/></g></g>
<g id="img_gfpA13T_7d" filter="url(#soft)"><clipPath id="cp66"><rect x="508.2" y="523.0" width="196.4" height="188.4"/></clipPath><g clip-path="url(#cp66)"><rect x="521.2" y="532.2" width="159.8" height="170.6" fill="#fcfcfc"/><rect x="521.2" y="532.2" width="84.8" height="85.3" fill="#fafafa"/><rect x="521.2" y="532.2" width="84.8" height="85.3" fill="url(#g6a)"/><rect x="521.2" y="532.2" width="84.8" height="85.3" fill="url(#g6a2)"/><rect x="606.0" y="532.2" width="75.0" height="85.3" fill="url(#g6b)"/><rect x="521.2" y="617.5" width="159.8" height="85.3" fill="url(#g6c)"/><ellipse cx="614.9" cy="561.0" rx="13.2" ry="6.0" transform="rotate(-60 614.9 561.0)" fill="#d2d2d2" stroke="#222" stroke-width="0.7"/><ellipse cx="605.3" cy="573.1" rx="12.0" ry="4.3" transform="rotate(80 605.3 573.1)" fill="#d2d2d2" stroke="#222" stroke-width="0.7"/><ellipse cx="666.6" cy="564.7" rx="13.2" ry="6.7" transform="rotate(75 666.6 564.7)" fill="#d6d6d6" stroke="#222" stroke-width="0.7"/><ellipse cx="649.8" cy="582.7" rx="19.2" ry="8.4" transform="rotate(80 649.8 582.7)" fill="#a8a8a8" stroke="#222" stroke-width="0.7"/><ellipse cx="576.5" cy="582.7" rx="19.2" ry="3.6" transform="rotate(12 576.5 582.7)" fill="#d2d2d2" stroke="#222" stroke-width="0.7"/><ellipse cx="574.1" cy="592.3" rx="12.0" ry="6.0" transform="rotate(10 574.1 592.3)" fill="#d2d2d2" stroke="#222" stroke-width="0.7"/><ellipse cx="565.7" cy="600.7" rx="9.6" ry="6.0" transform="rotate(60 565.7 600.7)" fill="#d2d2d2" stroke="#222" stroke-width="0.7"/><ellipse cx="545.2" cy="636.8" rx="10.8" ry="7.2" transform="rotate(-15 545.2 636.8)" fill="#d2d2d2" stroke="#222" stroke-width="0.7"/><ellipse cx="559.7" cy="642.8" rx="14.4" ry="6.0" transform="rotate(-30 559.7 642.8)" fill="#d2d2d2" stroke="#222" stroke-width="0.7"/><ellipse cx="532.0" cy="636.8" rx="4.3" ry="6.0" transform="rotate(0 532.0 636.8)" fill="#dcdcdc" stroke="#222" stroke-width="0.7"/><ellipse cx="575.3" cy="671.6" rx="14.4" ry="5.3" transform="rotate(-5 575.3 671.6)" fill="#d2d2d2" stroke="#222" stroke-width="0.7"/><ellipse cx="553.6" cy="662.0" rx="8.4" ry="3.6" transform="rotate(0 553.6 662.0)" fill="#dadada" stroke="#222" stroke-width="0.7"/><ellipse cx="544.0" cy="668.0" rx="3.6" ry="3.4" transform="rotate(0 544.0 668.0)" fill="#dddddd" stroke="#222" stroke-width="0.7"/><ellipse cx="599.3" cy="654.8" rx="16.8" ry="6.0" transform="rotate(-35 599.3 654.8)" fill="#d2d2d2" stroke="#222" stroke-width="0.7"/><ellipse cx="539.2" cy="648.8" rx="2.4" ry="2.4" transform="rotate(0 539.2 648.8)" fill="#ddd" stroke="#222" stroke-width="0.7"/><ellipse cx="640.2" cy="621.1" rx="9.6" ry="7.2" transform="rotate(0 640.2 621.1)" fill="#cfcfcf" stroke="#222" stroke-width="0.7"/><ellipse cx="625.7" cy="633.1" rx="7.2" ry="6.7" transform="rotate(0 625.7 633.1)" fill="#b8b8b8" stroke="#222" stroke-width="0.7"/><ellipse cx="548.8" cy="656.0" rx="2.9" ry="2.4" transform="rotate(0 548.8 656.0)" fill="#ddd" stroke="#222" stroke-width="0.7"/><ellipse cx="587.3" cy="585.1" rx="2.9" ry="2.9" transform="rotate(0 587.3 585.1)" fill="#141414" stroke="none" stroke-width="0"/><ellipse cx="588.5" cy="597.1" rx="6.0" ry="4.3" transform="rotate(20 588.5 597.1)" fill="#141414" stroke="none" stroke-width="0"/><ellipse cx="576.5" cy="601.9" rx="6.0" ry="3.6" transform="rotate(30 576.5 601.9)" fill="#141414" stroke="none" stroke-width="0"/><ellipse cx="552.4" cy="630.7" rx="6.0" ry="4.8" transform="rotate(20 552.4 630.7)" fill="#141414" stroke="none" stroke-width="0"/><ellipse cx="571.7" cy="638.0" rx="6.0" ry="6.0" transform="rotate(0 571.7 638.0)" fill="#141414" stroke="none" stroke-width="0"/><ellipse cx="608.9" cy="642.8" rx="6.7" ry="5.3" transform="rotate(-30 608.9 642.8)" fill="#141414" stroke="none" stroke-width="0"/><ellipse cx="586.1" cy="669.2" rx="4.8" ry="4.3" transform="rotate(0 586.1 669.2)" fill="#141414" stroke="none" stroke-width="0"/><ellipse cx="616.1" cy="588.7" rx="4.8" ry="2.9" transform="rotate(40 616.1 588.7)" fill="#141414" stroke="none" stroke-width="0"/><ellipse cx="663.0" cy="576.7" rx="8.4" ry="4.3" transform="rotate(10 663.0 576.7)" fill="#141414" stroke="none" stroke-width="0"/><ellipse cx="620.9" cy="573.1" rx="16.8" ry="9.6" transform="rotate(50 620.9 573.1)" fill="#9a9a9a" stroke="#111" stroke-width="0.9"/><ellipse cx="632.5" cy="557.4" rx="19.2" ry="10.8" transform="rotate(72 632.5 557.4)" fill="#7a7a7a" stroke="#111" stroke-width="0.9"/><ellipse cx="633.0" cy="597.1" rx="20.4" ry="10.8" transform="rotate(52 633.0 597.1)" fill="#9c9c9c" stroke="#111" stroke-width="0.9"/><ellipse cx="660.6" cy="604.3" rx="19.2" ry="10.1" transform="rotate(-78 660.6 604.3)" fill="#858585" stroke="#111" stroke-width="0.9"/><ellipse cx="546.9" cy="605.5" rx="18.0" ry="10.1" transform="rotate(-80 546.9 605.5)" fill="#8a8a8a" stroke="#111" stroke-width="0.9"/><ellipse cx="602.9" cy="600.7" rx="14.4" ry="10.1" transform="rotate(50 602.9 600.7)" fill="#787878" stroke="#111" stroke-width="0.9"/><ellipse cx="622.1" cy="613.9" rx="16.8" ry="7.7" transform="rotate(80 622.1 613.9)" fill="#8a8a8a" stroke="#111" stroke-width="0.9"/><ellipse cx="569.3" cy="619.9" rx="16.8" ry="9.1" transform="rotate(-20 569.3 619.9)" fill="#808080" stroke="#111" stroke-width="0.9"/><ellipse cx="594.5" cy="613.9" rx="18.0" ry="10.1" transform="rotate(35 594.5 613.9)" fill="#808080" stroke="#111" stroke-width="0.9"/><ellipse cx="589.7" cy="631.9" rx="20.4" ry="10.1" transform="rotate(8 589.7 631.9)" fill="#7c7c7c" stroke="#111" stroke-width="0.9"/><ellipse cx="578.9" cy="651.2" rx="18.0" ry="9.1" transform="rotate(-25 578.9 651.2)" fill="#8c8c8c" stroke="#111" stroke-width="0.9"/><ellipse cx="614.9" cy="654.8" rx="15.6" ry="10.8" transform="rotate(-45 614.9 654.8)" fill="#787878" stroke="#111" stroke-width="0.9"/><ellipse cx="593.3" cy="682.4" rx="19.2" ry="9.6" transform="rotate(-5 593.3 682.4)" fill="#787878" stroke="#111" stroke-width="0.9"/><path d="M635.4 570.7 q3 3 -1 7 q-4 2 -5 -1" stroke="#111" stroke-width="1.5" fill="none"/><path d="M623.3 583.9 q3 3 -1 7 q-4 2 -5 -1" stroke="#111" stroke-width="1.5" fill="none"/><path d="M664.2 585.1 q3 3 -1 7 q-4 2 -5 -1" stroke="#111" stroke-width="1.5" fill="none"/><path d="M592.1 593.5 q3 3 -1 7 q-4 2 -5 -1" stroke="#111" stroke-width="1.5" fill="none"/><path d="M616.1 597.1 q3 3 -1 7 q-4 2 -5 -1" stroke="#111" stroke-width="1.5" fill="none"/><path d="M558.5 627.1 q3 3 -1 7 q-4 2 -5 -1" stroke="#111" stroke-width="1.5" fill="none"/><path d="M576.5 634.3 q3 3 -1 7 q-4 2 -5 -1" stroke="#111" stroke-width="1.5" fill="none"/><path d="M607.7 678.8 q3 3 -1 7 q-4 2 -5 -1" stroke="#111" stroke-width="1.5" fill="none"/><ellipse cx="610.1" cy="690.8" rx="8.4" ry="4.3" transform="rotate(0 610.1 690.8)" fill="#666" stroke="none" stroke-width="0"/><path d="M639.4 531.0 L649.1 535.1 L640.2 543.0 Z" fill="#000"/><path d="M619.0 675.2 L631.8 674.5 L627.4 683.6 Z" fill="#000"/><path d="M530.1 690.1 H536.8" stroke="#000" stroke-width="2.6" fill="none"/></g></g>
<rect x="111.5" y="321.6" width="196.0" height="199.2" fill="none" stroke="#4d4d4d" stroke-width="1"/>
<rect x="111.5" y="523.0" width="196.0" height="188.4" fill="none" stroke="#4d4d4d" stroke-width="1"/>
<rect x="309.5" y="321.6" width="196.1" height="199.2" fill="none" stroke="#4d4d4d" stroke-width="1"/>
<rect x="309.5" y="523.0" width="196.1" height="188.4" fill="none" stroke="#4d4d4d" stroke-width="1"/>
<rect x="508.2" y="321.6" width="196.4" height="199.2" fill="none" stroke="#4d4d4d" stroke-width="1"/>
<rect x="508.2" y="523.0" width="196.4" height="188.4" fill="none" stroke="#4d4d4d" stroke-width="1"/>
</g>
<!--/PANEL_C-->
<!--PANEL_D-->
<!-- ================= PANEL D ================= -->
<g id="panelD">
<text x="0.5" y="745.4" font-size="21">D.</text>
<text transform="translate(39,848) rotate(-90)" font-size="21.1" text-anchor="middle">Eggs/female</text>
<text x="240" y="1043.4" font-size="20.8" text-anchor="middle">Age (Days)</text>
<path class="k" stroke-width="2.3" d="M81.1 750.3 V995 M72.5 993.9 H392.8"/>
<path class="k" stroke-width="2.3" d="M72.5 751.4 H81 M72.5 812.0 H81 M72.5 872.6 H81 M72.5 933.2 H81 M116.0 994 V997.6 M150.4 994 V997.6 M184.9 994 V997.6 M219.3 994 V997.6 M253.8 994 V997.6 M288.2 994 V997.6 M322.7 994 V997.6 M357.1 994 V997.6 M391.6 994 V997.6"/>
<g font-size="15.8" text-anchor="end"><text x="70.5" y="756.4">80</text><text x="70.5" y="815.8">60</text><text x="70.5" y="876.4">40</text><text x="70.5" y="937.0">20</text><text x="70.5" y="999.4">0</text></g>
<g font-size="15.5" text-anchor="middle"><text x="81.0" y="1012.6">0</text><text x="115.5" y="1012.6">1</text><text x="149.9" y="1012.6">2</text><text x="184.4" y="1012.6">3</text><text x="218.8" y="1012.6">4</text><text x="253.2" y="1012.6">5</text><text x="287.7" y="1012.6">6</text><text x="322.2" y="1012.6">7</text><text x="356.6" y="1012.6">8</text><text x="391.1" y="1012.6">9</text></g>
<path d="M184.9 889.0 V917.0 M181.7 889.0 H188.1 M181.7 917.0 H188.1 M219.3 822.9 V875.3 M216.1 822.9 H222.5 M216.1 875.3 H222.5 M253.8 820.9 V901.4 M250.6 820.9 H256.9 M250.6 901.4 H256.9 M288.2 852.0 V889.0 M285.0 852.0 H291.4 M285.0 889.0 H291.4 M322.7 872.0 V885.0 M319.5 872.0 H325.9 M319.5 885.0 H325.9 M357.1 902.0 V915.0 M353.9 902.0 H360.3 M353.9 915.0 H360.3" fill="none" stroke="#29abe2" stroke-width="2.3"/>
<path d="M81.5 993.8 L184.9 903.4 L219.3 849.7 L253.8 861.7 L288.2 868.9 L322.7 878.9 L357.1 908.2" fill="none" stroke="#29abe2" stroke-width="2.6" stroke-linejoin="round"/>
<path d="M184.9 856.5 V933.4 M181.7 856.5 H188.1 M181.7 933.4 H188.1 M219.3 817.3 V863.7 M216.1 817.3 H222.5 M216.1 863.7 H222.5 M253.8 808.9 V867.3 M250.6 808.9 H256.9 M250.6 867.3 H256.9 M288.2 820.0 V870.9 M285.0 820.0 H291.4 M285.0 870.9 H291.4 M322.7 849.3 V890.2 M319.5 849.3 H325.9 M319.5 890.2 H325.9 M357.1 869.3 V903.0 M353.9 869.3 H360.3 M353.9 903.0 H360.3" fill="none" stroke="#000" stroke-width="2.3"/>
<path d="M81.5 993.8 L184.9 896.2 L219.3 840.9 L253.8 838.5 L288.2 846.1 L322.7 870.1 L357.1 886.5" fill="none" stroke="#000" stroke-width="2.6" stroke-linejoin="round"/>
<path d="M184.9 961.3 V978.1 M181.7 961.3 H188.1 M181.7 978.1 H188.1 M219.3 952.5 V958.9 M216.1 952.5 H222.5 M216.1 958.9 H222.5 M253.8 928.9 V955.3 M250.6 928.9 H256.9 M250.6 955.3 H256.9 M288.2 930.0 V956.0 M285.0 930.0 H291.4 M285.0 956.0 H291.4 M322.7 946.0 V966.0 M319.5 946.0 H325.9 M319.5 966.0 H325.9 M357.1 958.9 V964.0 M353.9 958.9 H360.3 M353.9 964.0 H360.3" fill="none" stroke="#662d91" stroke-width="2.3"/>
<path d="M81.5 993.8 L184.9 968.9 L219.3 955.3 L253.8 942.1 L288.2 942.9 L322.7 955.3 L357.1 961.3" fill="none" stroke="#662d91" stroke-width="2.6" stroke-linejoin="round"/>
<circle cx="81.3" cy="993.8" r="2.2" fill="#0a3cff"/>
<g class="i" font-size="18"><text x="372" y="889">WT</text><text x="371" y="920.2" class="i bl">gfp</text><text x="369" y="966" class="i pv">gfpA13T</text></g>
</g>
<!--/PANEL_D-->
<!--PANEL_E-->
<!-- ================= PANEL E ================= -->
<g id="panelE">
<text x="443.5" y="742.8" font-size="21">E.</text>
<text transform="translate(482.7,871) rotate(-90)" font-size="22" text-anchor="middle">% Hatched eggs</text>
<path class="k" stroke-width="2" d="M515.3 776.9 H520 M515.3 816.7 H520 M515.3 856.5 H520 M515.3 896.2 H520 M515.3 936.0 H520"/>
<g font-size="16" text-anchor="end"><text x="514.8" y="782.6">100</text><text x="514.8" y="822.4">80</text><text x="514.8" y="862.2">60</text><text x="514.8" y="901.9">40</text><text x="514.8" y="941.7">20</text><text x="514.8" y="981.5">0</text></g>
<rect x="531.4" y="806.2" width="19.3" height="169.4" fill="#000"/><path d="M541.0 806.2 V800.8 M535.4 800.8 H546.6" stroke="#000" stroke-width="2" fill="none"/>
<rect x="562.2" y="791.7" width="19.9" height="183.9" fill="#29abe2"/><path d="M572.2 791.7 V788.7 M566.6 788.7 H577.8" stroke="#29abe2" stroke-width="2" fill="none"/>
<rect x="593.7" y="952.2" width="19.9" height="23.4" fill="#662d91"/><path d="M603.7 952.2 V947.9 M598.1 947.9 H609.3" stroke="#662d91" stroke-width="2" fill="none"/>
<rect x="645.6" y="807.2" width="19.9" height="168.4" fill="#000"/><path d="M655.5 807.2 V804.5 M649.9 804.5 H661.1" stroke="#000" stroke-width="2" fill="none"/>
<rect x="677.0" y="792.3" width="20.3" height="183.3" fill="#29abe2"/><path d="M687.1 792.3 V790.6 M681.5 790.6 H692.8" stroke="#29abe2" stroke-width="2" fill="none"/>
<rect x="708.6" y="967.2" width="19.7" height="8.4" fill="#662d91"/><path d="M718.5 967.2 V961.8 M712.9 961.8 H724.1" stroke="#662d91" stroke-width="2" fill="none"/>
<path class="k" stroke-width="2.1" d="M520.1 776 V976.6 M515.3 975.6 H739.6"/>
<g font-size="15" text-anchor="middle"><text x="540.2" y="794.6">423</text><text x="570.5" y="783.2">268</text><text x="603.3" y="943.2">574</text><text x="655.6" y="797.8">322</text><text x="687.1" y="783.2">227</text><text x="718" y="956">405</text></g>
<path class="k" stroke-width="1.8" d="M537.2 767.7 H571.4 M550.7 767.7 V750.8 H604 V925 M650.5 767.7 H685.1 M666.3 767.7 V752.3 H718.9 V939.4"/>
<g font-size="17" text-anchor="middle" style="font-weight:normal"><text x="576.8" y="750" style="font-weight:normal">***</text><text x="693.5" y="751.6" style="font-weight:normal">***</text></g>
<text class="" transform="translate(547.5,996.5) rotate(-45)" text-anchor="end" font-size="18.5" style="font-weight:bold">WT</text><text class="db" transform="translate(578.8,995.8) rotate(-45)" text-anchor="end" font-size="18.5" style="font-weight:bold">gfp</text><text class="pv" transform="translate(607.3,987.6) rotate(-45)" text-anchor="end" font-size="18.5" style="font-weight:bold">gfp</text><text class="pv" transform="translate(627.5,998.5) rotate(-45)" text-anchor="end" font-size="18.5" style="font-weight:normal" stroke="#662d91" stroke-width="0.45">A13T</text>
<text class="" transform="translate(661.0,996.5) rotate(-45)" text-anchor="end" font-size="18.5" style="font-weight:bold">WT</text><text class="db" transform="translate(692.3,995.8) rotate(-45)" text-anchor="end" font-size="18.5" style="font-weight:bold">gfp</text><text class="pv" transform="translate(721.8,987.6) rotate(-45)" text-anchor="end" font-size="18.5" style="font-weight:bold">gfp</text><text class="pv" transform="translate(742.5,998.5) rotate(-45)" text-anchor="end" font-size="18.5" style="font-weight:normal" stroke="#662d91" stroke-width="0.45">A13T</text>
<path class="k" stroke-width="2.3" d="M532.3 1037.4 H609.3 M646.7 1037.4 H724"/>
<g font-size="22" text-anchor="middle"><text x="568.5" y="1059">4d</text><text x="682.5" y="1059">7d</text></g>
</g>
<!--/PANEL_E-->
</svg>
</body>
</html>
